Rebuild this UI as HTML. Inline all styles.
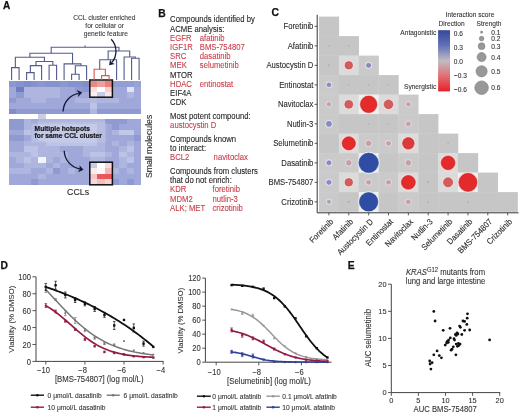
<!DOCTYPE html>
<html><head><meta charset="utf-8"><style>
html,body{margin:0;padding:0;background:#fff;}
body{width:520px;height:415px;overflow:hidden;}
svg{display:block;font-family:"Liberation Sans", sans-serif;will-change:transform;}
</style></head><body>
<svg width="520" height="415" viewBox="0 0 520 415">
<rect width="520" height="415" fill="#fff"/>
<text transform="translate(3.00,8.70) scale(1,1)" font-size="10.100" fill="#111" text-anchor="start" font-weight="bold" stroke="#111" stroke-width="0.25">A</text>
<text transform="translate(104.30,20.20) scale(0.92,1)" font-size="7.283" fill="#3a3a3a" text-anchor="middle" font-weight="normal" stroke="#3a3a3a" stroke-width="0.098" >CCL cluster enriched</text>
<text transform="translate(104.60,27.90) scale(0.92,1)" font-size="7.283" fill="#3a3a3a" text-anchor="middle" font-weight="normal" stroke="#3a3a3a" stroke-width="0.098" >for cellular or</text>
<text transform="translate(105.80,35.60) scale(0.92,1)" font-size="7.283" fill="#3a3a3a" text-anchor="middle" font-weight="normal" stroke="#3a3a3a" stroke-width="0.098" >genetic feature</text>
<defs><filter id="hb" x="-5%" y="-5%" width="110%" height="110%"><feGaussianBlur stdDeviation="0.45"/></filter></defs>
<g filter="url(#hb)" shape-rendering="crispEdges">
<rect x="9.00" y="81.00" width="8.25" height="6.43" fill="rgb(140, 151, 207)"/>
<rect x="16.35" y="81.00" width="8.25" height="6.43" fill="rgb(134, 146, 205)"/>
<rect x="23.70" y="81.00" width="8.25" height="6.43" fill="rgb(128, 141, 202)"/>
<rect x="31.05" y="81.00" width="8.25" height="6.43" fill="rgb(134, 146, 205)"/>
<rect x="38.40" y="81.00" width="8.25" height="6.43" fill="rgb(140, 151, 207)"/>
<rect x="45.75" y="81.00" width="8.25" height="6.43" fill="rgb(134, 146, 205)"/>
<rect x="53.10" y="81.00" width="8.25" height="6.43" fill="rgb(134, 146, 205)"/>
<rect x="60.45" y="81.00" width="8.25" height="6.43" fill="rgb(140, 151, 207)"/>
<rect x="67.80" y="81.00" width="8.25" height="6.43" fill="rgb(134, 146, 205)"/>
<rect x="75.15" y="81.00" width="8.25" height="6.43" fill="rgb(134, 146, 205)"/>
<rect x="82.50" y="81.00" width="8.25" height="6.43" fill="rgb(128, 141, 202)"/>
<rect x="89.85" y="81.00" width="8.25" height="6.43" fill="rgb(236, 136, 130)"/>
<rect x="97.20" y="81.00" width="8.25" height="6.43" fill="rgb(240, 160, 155)"/>
<rect x="104.55" y="81.00" width="8.25" height="6.43" fill="rgb(234, 128, 122)"/>
<rect x="111.90" y="81.00" width="8.25" height="6.43" fill="rgb(146, 157, 210)"/>
<rect x="119.25" y="81.00" width="8.25" height="6.43" fill="rgb(146, 157, 210)"/>
<rect x="126.60" y="81.00" width="8.25" height="6.43" fill="rgb(146, 157, 210)"/>
<rect x="133.95" y="81.00" width="7.35" height="6.43" fill="rgb(152, 162, 213)"/>
<rect x="9.00" y="86.53" width="8.25" height="6.43" fill="rgb(159, 168, 216)"/>
<rect x="16.35" y="86.53" width="8.25" height="6.43" fill="rgb(110, 124, 193)"/>
<rect x="23.70" y="86.53" width="8.25" height="6.43" fill="rgb(174, 181, 223)"/>
<rect x="31.05" y="86.53" width="8.25" height="6.43" fill="rgb(174, 181, 223)"/>
<rect x="38.40" y="86.53" width="8.25" height="6.43" fill="rgb(174, 181, 223)"/>
<rect x="45.75" y="86.53" width="8.25" height="6.43" fill="rgb(174, 181, 223)"/>
<rect x="53.10" y="86.53" width="8.25" height="6.43" fill="rgb(174, 181, 223)"/>
<rect x="60.45" y="86.53" width="8.25" height="6.43" fill="rgb(159, 168, 216)"/>
<rect x="67.80" y="86.53" width="8.25" height="6.43" fill="rgb(159, 168, 216)"/>
<rect x="75.15" y="86.53" width="8.25" height="6.43" fill="rgb(143, 154, 209)"/>
<rect x="82.50" y="86.53" width="8.25" height="6.43" fill="rgb(137, 149, 206)"/>
<rect x="89.85" y="86.53" width="8.25" height="6.43" fill="rgb(249, 227, 224)"/>
<rect x="97.20" y="86.53" width="8.25" height="6.43" fill="rgb(255, 255, 255)"/>
<rect x="104.55" y="86.53" width="8.25" height="6.43" fill="rgb(245, 208, 204)"/>
<rect x="111.90" y="86.53" width="8.25" height="6.43" fill="rgb(159, 168, 216)"/>
<rect x="119.25" y="86.53" width="8.25" height="6.43" fill="rgb(159, 168, 216)"/>
<rect x="126.60" y="86.53" width="8.25" height="6.43" fill="rgb(226, 227, 247)"/>
<rect x="133.95" y="86.53" width="7.35" height="6.43" fill="rgb(159, 168, 216)"/>
<rect x="9.00" y="92.06" width="8.25" height="6.43" fill="rgb(159, 168, 216)"/>
<rect x="16.35" y="92.06" width="8.25" height="6.43" fill="rgb(143, 154, 209)"/>
<rect x="23.70" y="92.06" width="8.25" height="6.43" fill="rgb(174, 181, 223)"/>
<rect x="31.05" y="92.06" width="8.25" height="6.43" fill="rgb(174, 181, 223)"/>
<rect x="38.40" y="92.06" width="8.25" height="6.43" fill="rgb(174, 181, 223)"/>
<rect x="45.75" y="92.06" width="8.25" height="6.43" fill="rgb(174, 181, 223)"/>
<rect x="53.10" y="92.06" width="8.25" height="6.43" fill="rgb(174, 181, 223)"/>
<rect x="60.45" y="92.06" width="8.25" height="6.43" fill="rgb(159, 168, 216)"/>
<rect x="67.80" y="92.06" width="8.25" height="6.43" fill="rgb(159, 168, 216)"/>
<rect x="75.15" y="92.06" width="8.25" height="6.43" fill="rgb(159, 168, 216)"/>
<rect x="82.50" y="92.06" width="8.25" height="6.43" fill="rgb(159, 168, 216)"/>
<rect x="89.85" y="92.06" width="8.25" height="6.43" fill="rgb(251, 238, 238)"/>
<rect x="97.20" y="92.06" width="8.25" height="6.43" fill="rgb(197, 203, 229)"/>
<rect x="104.55" y="92.06" width="8.25" height="6.43" fill="rgb(250, 230, 230)"/>
<rect x="111.90" y="92.06" width="8.25" height="6.43" fill="rgb(159, 168, 216)"/>
<rect x="119.25" y="92.06" width="8.25" height="6.43" fill="rgb(159, 168, 216)"/>
<rect x="126.60" y="92.06" width="8.25" height="6.43" fill="rgb(174, 181, 223)"/>
<rect x="133.95" y="92.06" width="7.35" height="6.43" fill="rgb(159, 168, 216)"/>
<rect x="9.00" y="97.59" width="8.25" height="6.43" fill="rgb(143, 154, 209)"/>
<rect x="16.35" y="97.59" width="8.25" height="6.43" fill="rgb(159, 168, 216)"/>
<rect x="23.70" y="97.59" width="8.25" height="6.43" fill="rgb(159, 168, 216)"/>
<rect x="31.05" y="97.59" width="8.25" height="6.43" fill="rgb(174, 181, 223)"/>
<rect x="38.40" y="97.59" width="8.25" height="6.43" fill="rgb(174, 181, 223)"/>
<rect x="45.75" y="97.59" width="8.25" height="6.43" fill="rgb(159, 168, 216)"/>
<rect x="53.10" y="97.59" width="8.25" height="6.43" fill="rgb(159, 168, 216)"/>
<rect x="60.45" y="97.59" width="8.25" height="6.43" fill="rgb(159, 168, 216)"/>
<rect x="67.80" y="97.59" width="8.25" height="6.43" fill="rgb(159, 168, 216)"/>
<rect x="75.15" y="97.59" width="8.25" height="6.43" fill="rgb(174, 181, 223)"/>
<rect x="82.50" y="97.59" width="8.25" height="6.43" fill="rgb(174, 181, 223)"/>
<rect x="89.85" y="97.59" width="8.25" height="6.43" fill="rgb(180, 186, 226)"/>
<rect x="97.20" y="97.59" width="8.25" height="6.43" fill="rgb(174, 181, 223)"/>
<rect x="104.55" y="97.59" width="8.25" height="6.43" fill="rgb(174, 181, 223)"/>
<rect x="111.90" y="97.59" width="8.25" height="6.43" fill="rgb(174, 181, 223)"/>
<rect x="119.25" y="97.59" width="8.25" height="6.43" fill="rgb(159, 168, 216)"/>
<rect x="126.60" y="97.59" width="8.25" height="6.43" fill="rgb(159, 168, 216)"/>
<rect x="133.95" y="97.59" width="7.35" height="6.43" fill="rgb(159, 168, 216)"/>
<rect x="9.00" y="103.12" width="8.25" height="6.43" fill="rgb(159, 168, 216)"/>
<rect x="16.35" y="103.12" width="8.25" height="6.43" fill="rgb(159, 168, 216)"/>
<rect x="23.70" y="103.12" width="8.25" height="6.43" fill="rgb(159, 168, 216)"/>
<rect x="31.05" y="103.12" width="8.25" height="6.43" fill="rgb(159, 168, 216)"/>
<rect x="38.40" y="103.12" width="8.25" height="6.43" fill="rgb(159, 168, 216)"/>
<rect x="45.75" y="103.12" width="8.25" height="6.43" fill="rgb(159, 168, 216)"/>
<rect x="53.10" y="103.12" width="8.25" height="6.43" fill="rgb(159, 168, 216)"/>
<rect x="60.45" y="103.12" width="8.25" height="6.43" fill="rgb(159, 168, 216)"/>
<rect x="67.80" y="103.12" width="8.25" height="6.43" fill="rgb(159, 168, 216)"/>
<rect x="75.15" y="103.12" width="8.25" height="6.43" fill="rgb(159, 168, 216)"/>
<rect x="82.50" y="103.12" width="8.25" height="6.43" fill="rgb(159, 168, 216)"/>
<rect x="89.85" y="103.12" width="8.25" height="6.43" fill="rgb(189, 195, 230)"/>
<rect x="97.20" y="103.12" width="8.25" height="6.43" fill="rgb(159, 168, 216)"/>
<rect x="104.55" y="103.12" width="8.25" height="6.43" fill="rgb(159, 168, 216)"/>
<rect x="111.90" y="103.12" width="8.25" height="6.43" fill="rgb(159, 168, 216)"/>
<rect x="119.25" y="103.12" width="8.25" height="6.43" fill="rgb(159, 168, 216)"/>
<rect x="126.60" y="103.12" width="8.25" height="6.43" fill="rgb(159, 168, 216)"/>
<rect x="133.95" y="103.12" width="7.35" height="6.43" fill="rgb(159, 168, 216)"/>
<rect x="9.00" y="108.65" width="8.25" height="5.53" fill="rgb(128, 141, 202)"/>
<rect x="16.35" y="108.65" width="8.25" height="5.53" fill="rgb(143, 154, 209)"/>
<rect x="23.70" y="108.65" width="8.25" height="5.53" fill="rgb(143, 154, 209)"/>
<rect x="31.05" y="108.65" width="8.25" height="5.53" fill="rgb(143, 154, 209)"/>
<rect x="38.40" y="108.65" width="8.25" height="5.53" fill="rgb(143, 154, 209)"/>
<rect x="45.75" y="108.65" width="8.25" height="5.53" fill="rgb(143, 154, 209)"/>
<rect x="53.10" y="108.65" width="8.25" height="5.53" fill="rgb(143, 154, 209)"/>
<rect x="60.45" y="108.65" width="8.25" height="5.53" fill="rgb(143, 154, 209)"/>
<rect x="67.80" y="108.65" width="8.25" height="5.53" fill="rgb(143, 154, 209)"/>
<rect x="75.15" y="108.65" width="8.25" height="5.53" fill="rgb(143, 154, 209)"/>
<rect x="82.50" y="108.65" width="8.25" height="5.53" fill="rgb(143, 154, 209)"/>
<rect x="89.85" y="108.65" width="8.25" height="5.53" fill="rgb(174, 181, 223)"/>
<rect x="97.20" y="108.65" width="8.25" height="5.53" fill="rgb(143, 154, 209)"/>
<rect x="104.55" y="108.65" width="8.25" height="5.53" fill="rgb(143, 154, 209)"/>
<rect x="111.90" y="108.65" width="8.25" height="5.53" fill="rgb(143, 154, 209)"/>
<rect x="119.25" y="108.65" width="8.25" height="5.53" fill="rgb(143, 154, 209)"/>
<rect x="126.60" y="108.65" width="8.25" height="5.53" fill="rgb(143, 154, 209)"/>
<rect x="133.95" y="108.65" width="7.35" height="5.53" fill="rgb(143, 154, 209)"/>
<rect x="38.40" y="114.2" width="7.35" height="4.3" fill="rgb(200,205,226)"/>
<rect x="9.00" y="118.50" width="8.25" height="6.40" fill="rgb(143, 154, 209)"/>
<rect x="16.35" y="118.50" width="8.25" height="6.40" fill="rgb(143, 154, 209)"/>
<rect x="23.70" y="118.50" width="8.25" height="6.40" fill="rgb(174, 181, 223)"/>
<rect x="31.05" y="118.50" width="8.25" height="6.40" fill="rgb(159, 168, 216)"/>
<rect x="38.40" y="118.50" width="8.25" height="6.40" fill="rgb(174, 181, 223)"/>
<rect x="45.75" y="118.50" width="8.25" height="6.40" fill="rgb(174, 181, 223)"/>
<rect x="53.10" y="118.50" width="8.25" height="6.40" fill="rgb(174, 181, 223)"/>
<rect x="60.45" y="118.50" width="8.25" height="6.40" fill="rgb(174, 181, 223)"/>
<rect x="67.80" y="118.50" width="8.25" height="6.40" fill="rgb(174, 181, 223)"/>
<rect x="75.15" y="118.50" width="8.25" height="6.40" fill="rgb(174, 181, 223)"/>
<rect x="82.50" y="118.50" width="8.25" height="6.40" fill="rgb(174, 181, 223)"/>
<rect x="89.85" y="118.50" width="8.25" height="6.40" fill="rgb(174, 181, 223)"/>
<rect x="97.20" y="118.50" width="8.25" height="6.40" fill="rgb(174, 181, 223)"/>
<rect x="104.55" y="118.50" width="8.25" height="6.40" fill="rgb(143, 154, 209)"/>
<rect x="111.90" y="118.50" width="8.25" height="6.40" fill="rgb(143, 154, 209)"/>
<rect x="119.25" y="118.50" width="8.25" height="6.40" fill="rgb(143, 154, 209)"/>
<rect x="126.60" y="118.50" width="8.25" height="6.40" fill="rgb(159, 168, 216)"/>
<rect x="133.95" y="118.50" width="7.35" height="6.40" fill="rgb(159, 168, 216)"/>
<rect x="9.00" y="124.00" width="8.25" height="6.40" fill="rgb(143, 154, 209)"/>
<rect x="16.35" y="124.00" width="8.25" height="6.40" fill="rgb(143, 154, 209)"/>
<rect x="23.70" y="124.00" width="8.25" height="6.40" fill="rgb(174, 181, 223)"/>
<rect x="31.05" y="124.00" width="8.25" height="6.40" fill="rgb(174, 181, 223)"/>
<rect x="38.40" y="124.00" width="8.25" height="6.40" fill="rgb(189, 195, 230)"/>
<rect x="45.75" y="124.00" width="8.25" height="6.40" fill="rgb(189, 195, 230)"/>
<rect x="53.10" y="124.00" width="8.25" height="6.40" fill="rgb(189, 195, 230)"/>
<rect x="60.45" y="124.00" width="8.25" height="6.40" fill="rgb(189, 195, 230)"/>
<rect x="67.80" y="124.00" width="8.25" height="6.40" fill="rgb(189, 195, 230)"/>
<rect x="75.15" y="124.00" width="8.25" height="6.40" fill="rgb(189, 195, 230)"/>
<rect x="82.50" y="124.00" width="8.25" height="6.40" fill="rgb(189, 195, 230)"/>
<rect x="89.85" y="124.00" width="8.25" height="6.40" fill="rgb(189, 195, 230)"/>
<rect x="97.20" y="124.00" width="8.25" height="6.40" fill="rgb(174, 181, 223)"/>
<rect x="104.55" y="124.00" width="8.25" height="6.40" fill="rgb(159, 168, 216)"/>
<rect x="111.90" y="124.00" width="8.25" height="6.40" fill="rgb(143, 154, 209)"/>
<rect x="119.25" y="124.00" width="8.25" height="6.40" fill="rgb(159, 168, 216)"/>
<rect x="126.60" y="124.00" width="8.25" height="6.40" fill="rgb(159, 168, 216)"/>
<rect x="133.95" y="124.00" width="7.35" height="6.40" fill="rgb(159, 168, 216)"/>
<rect x="9.00" y="129.50" width="8.25" height="6.40" fill="rgb(159, 168, 216)"/>
<rect x="16.35" y="129.50" width="8.25" height="6.40" fill="rgb(159, 168, 216)"/>
<rect x="23.70" y="129.50" width="8.25" height="6.40" fill="rgb(189, 195, 230)"/>
<rect x="31.05" y="129.50" width="8.25" height="6.40" fill="rgb(174, 181, 223)"/>
<rect x="38.40" y="129.50" width="8.25" height="6.40" fill="rgb(189, 195, 230)"/>
<rect x="45.75" y="129.50" width="8.25" height="6.40" fill="rgb(189, 195, 230)"/>
<rect x="53.10" y="129.50" width="8.25" height="6.40" fill="rgb(189, 195, 230)"/>
<rect x="60.45" y="129.50" width="8.25" height="6.40" fill="rgb(189, 195, 230)"/>
<rect x="67.80" y="129.50" width="8.25" height="6.40" fill="rgb(189, 195, 230)"/>
<rect x="75.15" y="129.50" width="8.25" height="6.40" fill="rgb(189, 195, 230)"/>
<rect x="82.50" y="129.50" width="8.25" height="6.40" fill="rgb(189, 195, 230)"/>
<rect x="89.85" y="129.50" width="8.25" height="6.40" fill="rgb(189, 195, 230)"/>
<rect x="97.20" y="129.50" width="8.25" height="6.40" fill="rgb(174, 181, 223)"/>
<rect x="104.55" y="129.50" width="8.25" height="6.40" fill="rgb(159, 168, 216)"/>
<rect x="111.90" y="129.50" width="8.25" height="6.40" fill="rgb(174, 181, 223)"/>
<rect x="119.25" y="129.50" width="8.25" height="6.40" fill="rgb(195, 200, 233)"/>
<rect x="126.60" y="129.50" width="8.25" height="6.40" fill="rgb(195, 200, 233)"/>
<rect x="133.95" y="129.50" width="7.35" height="6.40" fill="rgb(159, 168, 216)"/>
<rect x="9.00" y="135.00" width="8.25" height="6.40" fill="rgb(143, 154, 209)"/>
<rect x="16.35" y="135.00" width="8.25" height="6.40" fill="rgb(143, 154, 209)"/>
<rect x="23.70" y="135.00" width="8.25" height="6.40" fill="rgb(159, 168, 216)"/>
<rect x="31.05" y="135.00" width="8.25" height="6.40" fill="rgb(174, 181, 223)"/>
<rect x="38.40" y="135.00" width="8.25" height="6.40" fill="rgb(189, 195, 230)"/>
<rect x="45.75" y="135.00" width="8.25" height="6.40" fill="rgb(189, 195, 230)"/>
<rect x="53.10" y="135.00" width="8.25" height="6.40" fill="rgb(189, 195, 230)"/>
<rect x="60.45" y="135.00" width="8.25" height="6.40" fill="rgb(189, 195, 230)"/>
<rect x="67.80" y="135.00" width="8.25" height="6.40" fill="rgb(189, 195, 230)"/>
<rect x="75.15" y="135.00" width="8.25" height="6.40" fill="rgb(189, 195, 230)"/>
<rect x="82.50" y="135.00" width="8.25" height="6.40" fill="rgb(189, 195, 230)"/>
<rect x="89.85" y="135.00" width="8.25" height="6.40" fill="rgb(189, 195, 230)"/>
<rect x="97.20" y="135.00" width="8.25" height="6.40" fill="rgb(174, 181, 223)"/>
<rect x="104.55" y="135.00" width="8.25" height="6.40" fill="rgb(159, 168, 216)"/>
<rect x="111.90" y="135.00" width="8.25" height="6.40" fill="rgb(159, 168, 216)"/>
<rect x="119.25" y="135.00" width="8.25" height="6.40" fill="rgb(159, 168, 216)"/>
<rect x="126.60" y="135.00" width="8.25" height="6.40" fill="rgb(159, 168, 216)"/>
<rect x="133.95" y="135.00" width="7.35" height="6.40" fill="rgb(143, 154, 209)"/>
<rect x="9.00" y="140.50" width="8.25" height="6.40" fill="rgb(159, 168, 216)"/>
<rect x="16.35" y="140.50" width="8.25" height="6.40" fill="rgb(159, 168, 216)"/>
<rect x="23.70" y="140.50" width="8.25" height="6.40" fill="rgb(174, 181, 223)"/>
<rect x="31.05" y="140.50" width="8.25" height="6.40" fill="rgb(174, 181, 223)"/>
<rect x="38.40" y="140.50" width="8.25" height="6.40" fill="rgb(174, 181, 223)"/>
<rect x="45.75" y="140.50" width="8.25" height="6.40" fill="rgb(189, 195, 230)"/>
<rect x="53.10" y="140.50" width="8.25" height="6.40" fill="rgb(189, 195, 230)"/>
<rect x="60.45" y="140.50" width="8.25" height="6.40" fill="rgb(189, 195, 230)"/>
<rect x="67.80" y="140.50" width="8.25" height="6.40" fill="rgb(189, 195, 230)"/>
<rect x="75.15" y="140.50" width="8.25" height="6.40" fill="rgb(189, 195, 230)"/>
<rect x="82.50" y="140.50" width="8.25" height="6.40" fill="rgb(189, 195, 230)"/>
<rect x="89.85" y="140.50" width="8.25" height="6.40" fill="rgb(189, 195, 230)"/>
<rect x="97.20" y="140.50" width="8.25" height="6.40" fill="rgb(174, 181, 223)"/>
<rect x="104.55" y="140.50" width="8.25" height="6.40" fill="rgb(159, 168, 216)"/>
<rect x="111.90" y="140.50" width="8.25" height="6.40" fill="rgb(174, 181, 223)"/>
<rect x="119.25" y="140.50" width="8.25" height="6.40" fill="rgb(159, 168, 216)"/>
<rect x="126.60" y="140.50" width="8.25" height="6.40" fill="rgb(174, 181, 223)"/>
<rect x="133.95" y="140.50" width="7.35" height="6.40" fill="rgb(159, 168, 216)"/>
<rect x="9.00" y="146.00" width="8.25" height="6.40" fill="rgb(159, 168, 216)"/>
<rect x="16.35" y="146.00" width="8.25" height="6.40" fill="rgb(159, 168, 216)"/>
<rect x="23.70" y="146.00" width="8.25" height="6.40" fill="rgb(189, 195, 230)"/>
<rect x="31.05" y="146.00" width="8.25" height="6.40" fill="rgb(189, 195, 230)"/>
<rect x="38.40" y="146.00" width="8.25" height="6.40" fill="rgb(174, 181, 223)"/>
<rect x="45.75" y="146.00" width="8.25" height="6.40" fill="rgb(174, 181, 223)"/>
<rect x="53.10" y="146.00" width="8.25" height="6.40" fill="rgb(174, 181, 223)"/>
<rect x="60.45" y="146.00" width="8.25" height="6.40" fill="rgb(159, 168, 216)"/>
<rect x="67.80" y="146.00" width="8.25" height="6.40" fill="rgb(159, 168, 216)"/>
<rect x="75.15" y="146.00" width="8.25" height="6.40" fill="rgb(159, 168, 216)"/>
<rect x="82.50" y="146.00" width="8.25" height="6.40" fill="rgb(174, 181, 223)"/>
<rect x="89.85" y="146.00" width="8.25" height="6.40" fill="rgb(174, 181, 223)"/>
<rect x="97.20" y="146.00" width="8.25" height="6.40" fill="rgb(174, 181, 223)"/>
<rect x="104.55" y="146.00" width="8.25" height="6.40" fill="rgb(159, 168, 216)"/>
<rect x="111.90" y="146.00" width="8.25" height="6.40" fill="rgb(159, 168, 216)"/>
<rect x="119.25" y="146.00" width="8.25" height="6.40" fill="rgb(174, 181, 223)"/>
<rect x="126.60" y="146.00" width="8.25" height="6.40" fill="rgb(189, 195, 230)"/>
<rect x="133.95" y="146.00" width="7.35" height="6.40" fill="rgb(159, 168, 216)"/>
<rect x="9.00" y="151.50" width="8.25" height="6.40" fill="rgb(174, 181, 223)"/>
<rect x="16.35" y="151.50" width="8.25" height="6.40" fill="rgb(174, 181, 223)"/>
<rect x="23.70" y="151.50" width="8.25" height="6.40" fill="rgb(174, 181, 223)"/>
<rect x="31.05" y="151.50" width="8.25" height="6.40" fill="rgb(189, 195, 230)"/>
<rect x="38.40" y="151.50" width="8.25" height="6.40" fill="rgb(174, 181, 223)"/>
<rect x="45.75" y="151.50" width="8.25" height="6.40" fill="rgb(174, 181, 223)"/>
<rect x="53.10" y="151.50" width="8.25" height="6.40" fill="rgb(174, 181, 223)"/>
<rect x="60.45" y="151.50" width="8.25" height="6.40" fill="rgb(174, 181, 223)"/>
<rect x="67.80" y="151.50" width="8.25" height="6.40" fill="rgb(159, 168, 216)"/>
<rect x="75.15" y="151.50" width="8.25" height="6.40" fill="rgb(159, 168, 216)"/>
<rect x="82.50" y="151.50" width="8.25" height="6.40" fill="rgb(174, 181, 223)"/>
<rect x="89.85" y="151.50" width="8.25" height="6.40" fill="rgb(189, 195, 230)"/>
<rect x="97.20" y="151.50" width="8.25" height="6.40" fill="rgb(189, 195, 230)"/>
<rect x="104.55" y="151.50" width="8.25" height="6.40" fill="rgb(174, 181, 223)"/>
<rect x="111.90" y="151.50" width="8.25" height="6.40" fill="rgb(159, 168, 216)"/>
<rect x="119.25" y="151.50" width="8.25" height="6.40" fill="rgb(189, 195, 230)"/>
<rect x="126.60" y="151.50" width="8.25" height="6.40" fill="rgb(174, 181, 223)"/>
<rect x="133.95" y="151.50" width="7.35" height="6.40" fill="rgb(159, 168, 216)"/>
<rect x="9.00" y="157.00" width="8.25" height="6.40" fill="rgb(159, 168, 216)"/>
<rect x="16.35" y="157.00" width="8.25" height="6.40" fill="rgb(174, 181, 223)"/>
<rect x="23.70" y="157.00" width="8.25" height="6.40" fill="rgb(189, 195, 230)"/>
<rect x="31.05" y="157.00" width="8.25" height="6.40" fill="rgb(174, 181, 223)"/>
<rect x="38.40" y="157.00" width="8.25" height="6.40" fill="rgb(244, 245, 250)"/>
<rect x="45.75" y="157.00" width="8.25" height="6.40" fill="rgb(174, 181, 223)"/>
<rect x="53.10" y="157.00" width="8.25" height="6.40" fill="rgb(159, 168, 216)"/>
<rect x="60.45" y="157.00" width="8.25" height="6.40" fill="rgb(174, 181, 223)"/>
<rect x="67.80" y="157.00" width="8.25" height="6.40" fill="rgb(159, 168, 216)"/>
<rect x="75.15" y="157.00" width="8.25" height="6.40" fill="rgb(159, 168, 216)"/>
<rect x="82.50" y="157.00" width="8.25" height="6.40" fill="rgb(159, 168, 216)"/>
<rect x="89.85" y="157.00" width="8.25" height="6.40" fill="rgb(174, 181, 223)"/>
<rect x="97.20" y="157.00" width="8.25" height="6.40" fill="rgb(174, 181, 223)"/>
<rect x="104.55" y="157.00" width="8.25" height="6.40" fill="rgb(159, 168, 216)"/>
<rect x="111.90" y="157.00" width="8.25" height="6.40" fill="rgb(159, 168, 216)"/>
<rect x="119.25" y="157.00" width="8.25" height="6.40" fill="rgb(174, 181, 223)"/>
<rect x="126.60" y="157.00" width="8.25" height="6.40" fill="rgb(189, 195, 230)"/>
<rect x="133.95" y="157.00" width="7.35" height="6.40" fill="rgb(159, 168, 216)"/>
<rect x="9.00" y="162.50" width="8.25" height="6.40" fill="rgb(159, 168, 216)"/>
<rect x="16.35" y="162.50" width="8.25" height="6.40" fill="rgb(159, 168, 216)"/>
<rect x="23.70" y="162.50" width="8.25" height="6.40" fill="rgb(174, 181, 223)"/>
<rect x="31.05" y="162.50" width="8.25" height="6.40" fill="rgb(174, 181, 223)"/>
<rect x="38.40" y="162.50" width="8.25" height="6.40" fill="rgb(174, 181, 223)"/>
<rect x="45.75" y="162.50" width="8.25" height="6.40" fill="rgb(159, 168, 216)"/>
<rect x="53.10" y="162.50" width="8.25" height="6.40" fill="rgb(174, 181, 223)"/>
<rect x="60.45" y="162.50" width="8.25" height="6.40" fill="rgb(159, 168, 216)"/>
<rect x="67.80" y="162.50" width="8.25" height="6.40" fill="rgb(159, 168, 216)"/>
<rect x="75.15" y="162.50" width="8.25" height="6.40" fill="rgb(159, 168, 216)"/>
<rect x="82.50" y="162.50" width="8.25" height="6.40" fill="rgb(159, 168, 216)"/>
<rect x="89.85" y="162.50" width="8.25" height="6.40" fill="rgb(200, 204, 232)"/>
<rect x="97.20" y="162.50" width="8.25" height="6.40" fill="rgb(255, 255, 255)"/>
<rect x="104.55" y="162.50" width="8.25" height="6.40" fill="rgb(246, 218, 218)"/>
<rect x="111.90" y="162.50" width="8.25" height="6.40" fill="rgb(159, 168, 216)"/>
<rect x="119.25" y="162.50" width="8.25" height="6.40" fill="rgb(174, 181, 223)"/>
<rect x="126.60" y="162.50" width="8.25" height="6.40" fill="rgb(159, 168, 216)"/>
<rect x="133.95" y="162.50" width="7.35" height="6.40" fill="rgb(159, 168, 216)"/>
<rect x="9.00" y="168.00" width="8.25" height="6.40" fill="rgb(174, 181, 223)"/>
<rect x="16.35" y="168.00" width="8.25" height="6.40" fill="rgb(174, 181, 223)"/>
<rect x="23.70" y="168.00" width="8.25" height="6.40" fill="rgb(174, 181, 223)"/>
<rect x="31.05" y="168.00" width="8.25" height="6.40" fill="rgb(159, 168, 216)"/>
<rect x="38.40" y="168.00" width="8.25" height="6.40" fill="rgb(159, 168, 216)"/>
<rect x="45.75" y="168.00" width="8.25" height="6.40" fill="rgb(174, 181, 223)"/>
<rect x="53.10" y="168.00" width="8.25" height="6.40" fill="rgb(143, 154, 209)"/>
<rect x="60.45" y="168.00" width="8.25" height="6.40" fill="rgb(159, 168, 216)"/>
<rect x="67.80" y="168.00" width="8.25" height="6.40" fill="rgb(174, 181, 223)"/>
<rect x="75.15" y="168.00" width="8.25" height="6.40" fill="rgb(159, 168, 216)"/>
<rect x="82.50" y="168.00" width="8.25" height="6.40" fill="rgb(159, 168, 216)"/>
<rect x="89.85" y="168.00" width="8.25" height="6.40" fill="rgb(251, 236, 236)"/>
<rect x="97.20" y="168.00" width="8.25" height="6.40" fill="rgb(252, 246, 246)"/>
<rect x="104.55" y="168.00" width="8.25" height="6.40" fill="rgb(240, 184, 184)"/>
<rect x="111.90" y="168.00" width="8.25" height="6.40" fill="rgb(174, 181, 223)"/>
<rect x="119.25" y="168.00" width="8.25" height="6.40" fill="rgb(159, 168, 216)"/>
<rect x="126.60" y="168.00" width="8.25" height="6.40" fill="rgb(174, 181, 223)"/>
<rect x="133.95" y="168.00" width="7.35" height="6.40" fill="rgb(159, 168, 216)"/>
<rect x="9.00" y="173.50" width="8.25" height="6.40" fill="rgb(159, 168, 216)"/>
<rect x="16.35" y="173.50" width="8.25" height="6.40" fill="rgb(159, 168, 216)"/>
<rect x="23.70" y="173.50" width="8.25" height="6.40" fill="rgb(159, 168, 216)"/>
<rect x="31.05" y="173.50" width="8.25" height="6.40" fill="rgb(159, 168, 216)"/>
<rect x="38.40" y="173.50" width="8.25" height="6.40" fill="rgb(174, 181, 223)"/>
<rect x="45.75" y="173.50" width="8.25" height="6.40" fill="rgb(159, 168, 216)"/>
<rect x="53.10" y="173.50" width="8.25" height="6.40" fill="rgb(159, 168, 216)"/>
<rect x="60.45" y="173.50" width="8.25" height="6.40" fill="rgb(159, 168, 216)"/>
<rect x="67.80" y="173.50" width="8.25" height="6.40" fill="rgb(159, 168, 216)"/>
<rect x="75.15" y="173.50" width="8.25" height="6.40" fill="rgb(159, 168, 216)"/>
<rect x="82.50" y="173.50" width="8.25" height="6.40" fill="rgb(159, 168, 216)"/>
<rect x="89.85" y="173.50" width="8.25" height="6.40" fill="rgb(244, 200, 200)"/>
<rect x="97.20" y="173.50" width="8.25" height="6.40" fill="rgb(232, 90, 90)"/>
<rect x="104.55" y="173.50" width="8.25" height="6.40" fill="rgb(232, 86, 86)"/>
<rect x="111.90" y="173.50" width="8.25" height="6.40" fill="rgb(159, 168, 216)"/>
<rect x="119.25" y="173.50" width="8.25" height="6.40" fill="rgb(159, 168, 216)"/>
<rect x="126.60" y="173.50" width="8.25" height="6.40" fill="rgb(159, 168, 216)"/>
<rect x="133.95" y="173.50" width="7.35" height="6.40" fill="rgb(159, 168, 216)"/>
<rect x="9.00" y="179.00" width="8.25" height="5.50" fill="rgb(159, 168, 216)"/>
<rect x="16.35" y="179.00" width="8.25" height="5.50" fill="rgb(159, 168, 216)"/>
<rect x="23.70" y="179.00" width="8.25" height="5.50" fill="rgb(159, 168, 216)"/>
<rect x="31.05" y="179.00" width="8.25" height="5.50" fill="rgb(143, 154, 209)"/>
<rect x="38.40" y="179.00" width="8.25" height="5.50" fill="rgb(159, 168, 216)"/>
<rect x="45.75" y="179.00" width="8.25" height="5.50" fill="rgb(159, 168, 216)"/>
<rect x="53.10" y="179.00" width="8.25" height="5.50" fill="rgb(159, 168, 216)"/>
<rect x="60.45" y="179.00" width="8.25" height="5.50" fill="rgb(159, 168, 216)"/>
<rect x="67.80" y="179.00" width="8.25" height="5.50" fill="rgb(159, 168, 216)"/>
<rect x="75.15" y="179.00" width="8.25" height="5.50" fill="rgb(159, 168, 216)"/>
<rect x="82.50" y="179.00" width="8.25" height="5.50" fill="rgb(159, 168, 216)"/>
<rect x="89.85" y="179.00" width="8.25" height="5.50" fill="rgb(246, 216, 216)"/>
<rect x="97.20" y="179.00" width="8.25" height="5.50" fill="rgb(242, 192, 192)"/>
<rect x="104.55" y="179.00" width="8.25" height="5.50" fill="rgb(246, 210, 210)"/>
<rect x="111.90" y="179.00" width="8.25" height="5.50" fill="rgb(143, 154, 209)"/>
<rect x="119.25" y="179.00" width="8.25" height="5.50" fill="rgb(159, 168, 216)"/>
<rect x="126.60" y="179.00" width="8.25" height="5.50" fill="rgb(143, 154, 209)"/>
<rect x="133.95" y="179.00" width="7.35" height="5.50" fill="rgb(159, 168, 216)"/>
</g>
<rect x="31.7" y="121.8" width="74.8" height="20.8" fill="#ffffff" fill-opacity="0.12"/>
<rect x="89.8" y="80.0" width="22.6" height="17.2" fill="none" stroke="#111" stroke-width="1.5"/>
<rect x="89.8" y="162.2" width="22.6" height="22.6" fill="none" stroke="#111" stroke-width="1.5"/>
<path d="M11.60,80.00V67.60H19.10V80.00" fill="none" stroke="#535a8e" stroke-width="1.1"/>
<path d="M26.60,80.00V72.60H34.10V80.00" fill="none" stroke="#535a8e" stroke-width="1.1"/>
<path d="M30.35,72.60V65.60H41.60V80.00" fill="none" stroke="#535a8e" stroke-width="1.1"/>
<path d="M49.10,80.00V65.30H56.60V80.00" fill="none" stroke="#535a8e" stroke-width="1.1"/>
<path d="M35.98,65.60V61.50H52.85V65.30" fill="none" stroke="#535a8e" stroke-width="1.1"/>
<path d="M15.35,67.60V57.20H44.41V61.50" fill="none" stroke="#535a8e" stroke-width="1.1"/>
<path d="M71.60,80.00V74.20H79.10V80.00" fill="none" stroke="#535a8e" stroke-width="1.1"/>
<path d="M75.35,74.20V65.80H86.60V80.00" fill="none" stroke="#535a8e" stroke-width="1.1"/>
<path d="M64.10,80.00V63.90H80.97V65.80" fill="none" stroke="#535a8e" stroke-width="1.1"/>
<path d="M29.88,57.20V53.20H72.54V63.90" fill="none" stroke="#535a8e" stroke-width="1.1"/>
<path d="M101.60,80.00V75.60H109.10V80.00" fill="none" stroke="#e05552" stroke-width="1.1"/>
<path d="M94.10,80.00V69.30H105.35V75.60" fill="none" stroke="#e05552" stroke-width="1.1"/>
<path d="M99.72,69.30V59.70H116.60V80.00" fill="none" stroke="#535a8e" stroke-width="1.1"/>
<path d="M131.60,80.00V58.20H139.10V80.00" fill="none" stroke="#535a8e" stroke-width="1.1"/>
<path d="M124.10,80.00V57.00H135.35V58.20" fill="none" stroke="#535a8e" stroke-width="1.1"/>
<path d="M108.16,59.70V51.00H129.72V57.00" fill="none" stroke="#535a8e" stroke-width="1.1"/>
<path d="M51.21,53.20V47.30H118.94V51.00" fill="none" stroke="#535a8e" stroke-width="1.1"/>
<path d="M85.08,47.3V45.3" stroke="#535a8e" stroke-width="1"/>
<path d="M111.2,39.2 C117.5,45.5 117.5,56.5 111.6,62.6" fill="none" stroke="#14183a" stroke-width="1.3"/>
<path d="M109.10,65.19 L110.06,59.44 L111.60,62.60 L114.81,64.03 Z" fill="#14183a"/>
<path d="M63.1,111.6 C63.4,102 70,95 78.6,93.3" fill="none" stroke="#14183a" stroke-width="1.3"/>
<path d="M82.28,92.57 L78.05,96.98 L78.60,93.30 L76.70,90.11 Z" fill="#14183a"/>
<path d="M64.2,150.8 C64.5,160 71,167 79.9,169.0" fill="none" stroke="#14183a" stroke-width="1.3"/>
<path d="M83.56,169.82 L77.91,172.14 L79.90,169.00 L79.45,165.31 Z" fill="#14183a"/>
<text transform="translate(34.60,131.10) scale(0.92,1)" font-size="7.283" fill="#161616" text-anchor="start" font-weight="bold" stroke="#161616" stroke-width="0.2">Multiple hotspots</text>
<text transform="translate(34.60,138.40) scale(0.92,1)" font-size="7.283" fill="#161616" text-anchor="start" font-weight="bold" stroke="#161616" stroke-width="0.2">for same CCL cluster</text>
<text transform="translate(78.10,195.00) scale(0.92,1)" font-size="9.565" fill="#2a2a2a" text-anchor="middle" font-weight="normal" stroke="#2a2a2a" stroke-width="0.098" >CCLs</text>
<text transform="translate(151.70,146.40) rotate(-90) scale(0.92,1)" font-size="9.457" fill="#2a2a2a" text-anchor="middle" font-weight="normal" stroke="#2a2a2a" stroke-width="0.098" >Small molecules</text>
<text transform="translate(158.30,16.50) scale(1,1)" font-size="10.300" fill="#111" text-anchor="start" font-weight="bold" stroke="#111" stroke-width="0.25">B</text>
<text transform="translate(170.10,22.30) scale(0.92,1)" font-size="8.391" fill="#232323" text-anchor="start" font-weight="normal" stroke="#232323" stroke-width="0.098" >Compounds identified by</text>
<text transform="translate(170.10,31.50) scale(0.92,1)" font-size="8.391" fill="#232323" text-anchor="start" font-weight="normal" stroke="#232323" stroke-width="0.098" >ACME analysis:</text>
<text transform="translate(170.10,40.70) scale(0.92,1)" font-size="8.391" fill="#c93c48" text-anchor="start" font-weight="normal" stroke="#c93c48" stroke-width="0.098" >EGFR</text>
<text transform="translate(199.80,40.70) scale(0.92,1)" font-size="8.391" fill="#c93c48" text-anchor="start" font-weight="normal" stroke="#c93c48" stroke-width="0.098" >afatinib</text>
<text transform="translate(170.10,49.90) scale(0.92,1)" font-size="8.391" fill="#c93c48" text-anchor="start" font-weight="normal" stroke="#c93c48" stroke-width="0.098" >IGF1R</text>
<text transform="translate(199.80,49.90) scale(0.92,1)" font-size="8.391" fill="#c93c48" text-anchor="start" font-weight="normal" stroke="#c93c48" stroke-width="0.098" >BMS-754807</text>
<text transform="translate(170.10,59.10) scale(0.92,1)" font-size="8.391" fill="#c93c48" text-anchor="start" font-weight="normal" stroke="#c93c48" stroke-width="0.098" >SRC</text>
<text transform="translate(199.80,59.10) scale(0.92,1)" font-size="8.391" fill="#c93c48" text-anchor="start" font-weight="normal" stroke="#c93c48" stroke-width="0.098" >dasatinib</text>
<text transform="translate(170.10,68.30) scale(0.92,1)" font-size="8.391" fill="#c93c48" text-anchor="start" font-weight="normal" stroke="#c93c48" stroke-width="0.098" >MEK</text>
<text transform="translate(199.80,68.30) scale(0.92,1)" font-size="8.391" fill="#c93c48" text-anchor="start" font-weight="normal" stroke="#c93c48" stroke-width="0.098" >selumetinib</text>
<text transform="translate(170.10,77.50) scale(0.92,1)" font-size="8.391" fill="#232323" text-anchor="start" font-weight="normal" stroke="#232323" stroke-width="0.098" >MTOR</text>
<text transform="translate(170.10,86.70) scale(0.92,1)" font-size="8.391" fill="#c93c48" text-anchor="start" font-weight="normal" stroke="#c93c48" stroke-width="0.098" >HDAC</text>
<text transform="translate(199.80,86.70) scale(0.92,1)" font-size="8.391" fill="#c93c48" text-anchor="start" font-weight="normal" stroke="#c93c48" stroke-width="0.098" >entinostat</text>
<text transform="translate(170.10,95.90) scale(0.92,1)" font-size="8.391" fill="#232323" text-anchor="start" font-weight="normal" stroke="#232323" stroke-width="0.098" >EIF4A</text>
<text transform="translate(170.10,105.10) scale(0.92,1)" font-size="8.391" fill="#232323" text-anchor="start" font-weight="normal" stroke="#232323" stroke-width="0.098" >CDK</text>
<text transform="translate(170.10,118.60) scale(0.92,1)" font-size="8.391" fill="#232323" text-anchor="start" font-weight="normal" stroke="#232323" stroke-width="0.098" >Most potent compound:</text>
<text transform="translate(170.10,127.80) scale(0.92,1)" font-size="8.391" fill="#c93c48" text-anchor="start" font-weight="normal" stroke="#c93c48" stroke-width="0.098" >austocystin D</text>
<text transform="translate(170.10,141.50) scale(0.92,1)" font-size="8.391" fill="#232323" text-anchor="start" font-weight="normal" stroke="#232323" stroke-width="0.098" >Compounds known</text>
<text transform="translate(170.10,150.70) scale(0.92,1)" font-size="8.391" fill="#232323" text-anchor="start" font-weight="normal" stroke="#232323" stroke-width="0.098" >to interact:</text>
<text transform="translate(170.10,159.90) scale(0.92,1)" font-size="8.391" fill="#c93c48" text-anchor="start" font-weight="normal" stroke="#c93c48" stroke-width="0.098" >BCL2</text>
<text transform="translate(213.60,159.90) scale(0.92,1)" font-size="8.391" fill="#c93c48" text-anchor="start" font-weight="normal" stroke="#c93c48" stroke-width="0.098" >navitoclax</text>
<text transform="translate(170.10,174.00) scale(0.92,1)" font-size="8.391" fill="#232323" text-anchor="start" font-weight="normal" stroke="#232323" stroke-width="0.098" >Compounds from clusters</text>
<text transform="translate(170.10,183.20) scale(0.92,1)" font-size="8.391" fill="#232323" text-anchor="start" font-weight="normal" stroke="#232323" stroke-width="0.098" >that do not enrich:</text>
<text transform="translate(170.10,192.40) scale(0.92,1)" font-size="8.391" fill="#c93c48" text-anchor="start" font-weight="normal" stroke="#c93c48" stroke-width="0.098" >KDR</text>
<text transform="translate(212.50,192.40) scale(0.92,1)" font-size="8.391" fill="#c93c48" text-anchor="start" font-weight="normal" stroke="#c93c48" stroke-width="0.098" >foretinib</text>
<text transform="translate(170.10,201.60) scale(0.92,1)" font-size="8.391" fill="#c93c48" text-anchor="start" font-weight="normal" stroke="#c93c48" stroke-width="0.098" >MDM2</text>
<text transform="translate(212.50,201.60) scale(0.92,1)" font-size="8.391" fill="#c93c48" text-anchor="start" font-weight="normal" stroke="#c93c48" stroke-width="0.098" >nutlin-3</text>
<text transform="translate(170.10,210.80) scale(0.92,1)" font-size="8.391" fill="#c93c48" text-anchor="start" font-weight="normal" stroke="#c93c48" stroke-width="0.098" >ALK; MET</text>
<text transform="translate(212.50,210.80) scale(0.92,1)" font-size="8.391" fill="#c93c48" text-anchor="start" font-weight="normal" stroke="#c93c48" stroke-width="0.098" >crizotinib</text>
<text transform="translate(271.60,16.30) scale(1,1)" font-size="10.300" fill="#111" text-anchor="start" font-weight="bold" stroke="#111" stroke-width="0.25">C</text>
<rect x="319.00" y="16.60" width="20.11" height="19.75" fill="#c6c6c6"/>
<rect x="319.00" y="36.10" width="20.11" height="19.75" fill="#c6c6c6"/>
<rect x="338.86" y="36.10" width="20.11" height="19.75" fill="#c6c6c6"/>
<rect x="319.00" y="55.60" width="20.11" height="19.75" fill="#c6c6c6"/>
<rect x="338.86" y="55.60" width="20.11" height="19.75" fill="#dbdbdb"/>
<rect x="358.72" y="55.60" width="20.11" height="19.75" fill="#cacaca"/>
<rect x="319.00" y="75.10" width="20.11" height="19.75" fill="#cacaca"/>
<rect x="338.86" y="75.10" width="20.11" height="19.75" fill="#c6c6c6"/>
<rect x="358.72" y="75.10" width="20.11" height="19.75" fill="#c6c6c6"/>
<rect x="378.58" y="75.10" width="20.11" height="19.75" fill="#c6c6c6"/>
<rect x="319.00" y="94.60" width="20.11" height="19.75" fill="#cacaca"/>
<rect x="338.86" y="94.60" width="20.11" height="19.75" fill="#dbdbdb"/>
<rect x="358.72" y="94.60" width="20.11" height="19.75" fill="#f0f0f0"/>
<rect x="378.58" y="94.60" width="20.11" height="19.75" fill="#dbdbdb"/>
<rect x="398.44" y="94.60" width="20.11" height="19.75" fill="#cacaca"/>
<rect x="319.00" y="114.10" width="20.11" height="19.75" fill="#cacaca"/>
<rect x="338.86" y="114.10" width="20.11" height="19.75" fill="#c6c6c6"/>
<rect x="358.72" y="114.10" width="20.11" height="19.75" fill="#c6c6c6"/>
<rect x="378.58" y="114.10" width="20.11" height="19.75" fill="#c6c6c6"/>
<rect x="398.44" y="114.10" width="20.11" height="19.75" fill="#cacaca"/>
<rect x="418.30" y="114.10" width="20.11" height="19.75" fill="#c6c6c6"/>
<rect x="319.00" y="133.60" width="20.11" height="19.75" fill="#c6c6c6"/>
<rect x="338.86" y="133.60" width="20.11" height="19.75" fill="#dbdbdb"/>
<rect x="358.72" y="133.60" width="20.11" height="19.75" fill="#cacaca"/>
<rect x="378.58" y="133.60" width="20.11" height="19.75" fill="#cacaca"/>
<rect x="398.44" y="133.60" width="20.11" height="19.75" fill="#dbdbdb"/>
<rect x="418.30" y="133.60" width="20.11" height="19.75" fill="#c6c6c6"/>
<rect x="438.16" y="133.60" width="20.11" height="19.75" fill="#c6c6c6"/>
<rect x="319.00" y="153.10" width="20.11" height="19.75" fill="#cacaca"/>
<rect x="338.86" y="153.10" width="20.11" height="19.75" fill="#cacaca"/>
<rect x="358.72" y="153.10" width="20.11" height="19.75" fill="#f0f0f0"/>
<rect x="378.58" y="153.10" width="20.11" height="19.75" fill="#c6c6c6"/>
<rect x="398.44" y="153.10" width="20.11" height="19.75" fill="#cacaca"/>
<rect x="418.30" y="153.10" width="20.11" height="19.75" fill="#c6c6c6"/>
<rect x="438.16" y="153.10" width="20.11" height="19.75" fill="#dbdbdb"/>
<rect x="458.02" y="153.10" width="20.11" height="19.75" fill="#c6c6c6"/>
<rect x="319.00" y="172.60" width="20.11" height="19.75" fill="#cacaca"/>
<rect x="338.86" y="172.60" width="20.11" height="19.75" fill="#dbdbdb"/>
<rect x="358.72" y="172.60" width="20.11" height="19.75" fill="#cacaca"/>
<rect x="378.58" y="172.60" width="20.11" height="19.75" fill="#cacaca"/>
<rect x="398.44" y="172.60" width="20.11" height="19.75" fill="#dbdbdb"/>
<rect x="418.30" y="172.60" width="20.11" height="19.75" fill="#c6c6c6"/>
<rect x="438.16" y="172.60" width="20.11" height="19.75" fill="#dbdbdb"/>
<rect x="458.02" y="172.60" width="20.11" height="19.75" fill="#f0f0f0"/>
<rect x="477.88" y="172.60" width="20.11" height="19.75" fill="#c6c6c6"/>
<rect x="319.00" y="192.10" width="20.11" height="19.75" fill="#cacaca"/>
<rect x="338.86" y="192.10" width="20.11" height="19.75" fill="#c6c6c6"/>
<rect x="358.72" y="192.10" width="20.11" height="19.75" fill="#f0f0f0"/>
<rect x="378.58" y="192.10" width="20.11" height="19.75" fill="#c6c6c6"/>
<rect x="398.44" y="192.10" width="20.11" height="19.75" fill="#cacaca"/>
<rect x="418.30" y="192.10" width="20.11" height="19.75" fill="#c6c6c6"/>
<rect x="438.16" y="192.10" width="20.11" height="19.75" fill="#c6c6c6"/>
<rect x="458.02" y="192.10" width="20.11" height="19.75" fill="#c6c6c6"/>
<rect x="477.88" y="192.10" width="20.11" height="19.75" fill="#c6c6c6"/>
<rect x="497.74" y="192.10" width="20.11" height="19.75" fill="#c6c6c6"/>
<circle cx="328.93" cy="45.85" r="0.8" fill="#b0b0b0"/>
<circle cx="348.79" cy="45.85" r="0.8" fill="#b0b0b0"/>
<circle cx="328.93" cy="65.35" r="1.0" fill="#b0b0b0"/>
<circle cx="348.79" cy="65.35" r="5.10" fill="#f2dada"/>
<circle cx="348.79" cy="65.35" r="3.75" fill="#d65c5c" stroke="#b84848" stroke-width="0.6"/>
<circle cx="368.65" cy="65.35" r="3.50" fill="#e2e2ee"/>
<circle cx="368.65" cy="65.35" r="2.15" fill="#8a8ac8" stroke="#7878b0" stroke-width="0.6"/>
<circle cx="328.93" cy="84.85" r="3.30" fill="#e2e2ee"/>
<circle cx="328.93" cy="84.85" r="1.95" fill="#8a8ac8" stroke="#7878b0" stroke-width="0.6"/>
<circle cx="348.79" cy="84.85" r="0.8" fill="#b0b0b0"/>
<circle cx="368.65" cy="84.85" r="0.8" fill="#b0b0b0"/>
<circle cx="388.51" cy="84.85" r="0.8" fill="#b0b0b0"/>
<circle cx="328.93" cy="104.35" r="3.10" fill="#e6d8da"/>
<circle cx="328.93" cy="104.35" r="1.75" fill="#c9a0a6" stroke="#b89098" stroke-width="0.6"/>
<circle cx="348.79" cy="104.35" r="5.30" fill="#f2dada"/>
<circle cx="348.79" cy="104.35" r="3.95" fill="#d65c5c" stroke="#b84848" stroke-width="0.6"/>
<circle cx="368.65" cy="104.35" r="9.60" fill="#f7dcdc"/>
<circle cx="368.65" cy="104.35" r="8.25" fill="#e42a2a" stroke="#c42222" stroke-width="0.6"/>
<circle cx="388.51" cy="104.35" r="5.70" fill="#f2dada"/>
<circle cx="388.51" cy="104.35" r="4.35" fill="#d65c5c" stroke="#b84848" stroke-width="0.6"/>
<circle cx="408.37" cy="104.35" r="3.10" fill="#e6d8da"/>
<circle cx="408.37" cy="104.35" r="1.75" fill="#c9a0a6" stroke="#b89098" stroke-width="0.6"/>
<circle cx="328.93" cy="123.85" r="3.90" fill="#e2e2ee"/>
<circle cx="328.93" cy="123.85" r="2.55" fill="#8a8ac8" stroke="#7878b0" stroke-width="0.6"/>
<circle cx="368.65" cy="123.85" r="0.8" fill="#b0b0b0"/>
<circle cx="388.51" cy="123.85" r="0.8" fill="#b0b0b0"/>
<circle cx="408.37" cy="123.85" r="3.30" fill="#e6d8da"/>
<circle cx="408.37" cy="123.85" r="1.95" fill="#c9a0a6" stroke="#b89098" stroke-width="0.6"/>
<circle cx="348.79" cy="143.35" r="8.00" fill="#f7dcdc"/>
<circle cx="348.79" cy="143.35" r="6.65" fill="#e42a2a" stroke="#c42222" stroke-width="0.6"/>
<circle cx="368.65" cy="143.35" r="3.70" fill="#e6d8da"/>
<circle cx="368.65" cy="143.35" r="2.35" fill="#c9a0a6" stroke="#b89098" stroke-width="0.6"/>
<circle cx="388.51" cy="143.35" r="3.30" fill="#e6d8da"/>
<circle cx="388.51" cy="143.35" r="1.95" fill="#c9a0a6" stroke="#b89098" stroke-width="0.6"/>
<circle cx="408.37" cy="143.35" r="7.10" fill="#f5d8d8"/>
<circle cx="408.37" cy="143.35" r="5.75" fill="#dc3a3a" stroke="#b02a2a" stroke-width="0.6"/>
<circle cx="448.09" cy="143.35" r="0.8" fill="#b0b0b0"/>
<circle cx="328.93" cy="162.85" r="3.50" fill="#e2e2ee"/>
<circle cx="328.93" cy="162.85" r="2.15" fill="#8a8ac8" stroke="#7878b0" stroke-width="0.6"/>
<circle cx="348.79" cy="162.85" r="3.70" fill="#e6d8da"/>
<circle cx="348.79" cy="162.85" r="2.35" fill="#c9a0a6" stroke="#b89098" stroke-width="0.6"/>
<circle cx="368.65" cy="162.85" r="11.10" fill="#e8eaf6"/>
<circle cx="368.65" cy="162.85" r="9.75" fill="#2f4ea3" stroke="#283f8a" stroke-width="0.6"/>
<circle cx="408.37" cy="162.85" r="3.70" fill="#e6d8da"/>
<circle cx="408.37" cy="162.85" r="2.35" fill="#c9a0a6" stroke="#b89098" stroke-width="0.6"/>
<circle cx="448.09" cy="162.85" r="8.30" fill="#f7dcdc"/>
<circle cx="448.09" cy="162.85" r="6.95" fill="#e42a2a" stroke="#c42222" stroke-width="0.6"/>
<circle cx="328.93" cy="182.35" r="3.50" fill="#e2e2ee"/>
<circle cx="328.93" cy="182.35" r="2.15" fill="#8a8ac8" stroke="#7878b0" stroke-width="0.6"/>
<circle cx="348.79" cy="182.35" r="5.10" fill="#f2dada"/>
<circle cx="348.79" cy="182.35" r="3.75" fill="#d65c5c" stroke="#b84848" stroke-width="0.6"/>
<circle cx="368.65" cy="182.35" r="3.30" fill="#e6d8da"/>
<circle cx="368.65" cy="182.35" r="1.95" fill="#c9a0a6" stroke="#b89098" stroke-width="0.6"/>
<circle cx="388.51" cy="182.35" r="3.30" fill="#e6d8da"/>
<circle cx="388.51" cy="182.35" r="1.95" fill="#c9a0a6" stroke="#b89098" stroke-width="0.6"/>
<circle cx="408.37" cy="182.35" r="8.30" fill="#f7dcdc"/>
<circle cx="408.37" cy="182.35" r="6.95" fill="#e42a2a" stroke="#c42222" stroke-width="0.6"/>
<circle cx="428.23" cy="182.35" r="1.0" fill="#b0b0b0"/>
<circle cx="448.09" cy="182.35" r="5.90" fill="#f2dada"/>
<circle cx="448.09" cy="182.35" r="4.55" fill="#d65c5c" stroke="#b84848" stroke-width="0.6"/>
<circle cx="467.95" cy="182.35" r="10.40" fill="#f7dcdc"/>
<circle cx="467.95" cy="182.35" r="9.05" fill="#e42a2a" stroke="#c42222" stroke-width="0.6"/>
<circle cx="328.93" cy="201.85" r="3.10" fill="#e0e0e0"/>
<circle cx="328.93" cy="201.85" r="1.75" fill="#a8a0b8" stroke="#a8a0b8" stroke-width="0.6"/>
<circle cx="348.79" cy="201.85" r="1.2" fill="#b0b0b0"/>
<circle cx="368.65" cy="201.85" r="10.60" fill="#e8eaf6"/>
<circle cx="368.65" cy="201.85" r="9.25" fill="#2f4ea3" stroke="#283f8a" stroke-width="0.6"/>
<circle cx="408.37" cy="201.85" r="3.30" fill="#e6d8da"/>
<circle cx="408.37" cy="201.85" r="1.95" fill="#c9a0a6" stroke="#b89098" stroke-width="0.6"/>
<circle cx="428.23" cy="201.85" r="0.9" fill="#b0b0b0"/>
<circle cx="467.95" cy="201.85" r="0.9" fill="#b0b0b0"/>
<path d="M317.2,14.8V212.8H518.5" fill="none" stroke="#333" stroke-width="1"/>
<path d="M314.6,26.35H317.2" stroke="#333" stroke-width="0.8"/>
<text transform="translate(313.40,29.05) scale(0.92,1)" font-size="8.370" fill="#2a2a2a" text-anchor="end" font-weight="normal" stroke="#2a2a2a" stroke-width="0.098" >Foretinib</text>
<path d="M314.6,45.85H317.2" stroke="#333" stroke-width="0.8"/>
<text transform="translate(313.40,48.55) scale(0.92,1)" font-size="8.370" fill="#2a2a2a" text-anchor="end" font-weight="normal" stroke="#2a2a2a" stroke-width="0.098" >Afatinib</text>
<path d="M314.6,65.35H317.2" stroke="#333" stroke-width="0.8"/>
<text transform="translate(313.40,68.05) scale(0.92,1)" font-size="8.370" fill="#2a2a2a" text-anchor="end" font-weight="normal" stroke="#2a2a2a" stroke-width="0.098" >Austocystin D</text>
<path d="M314.6,84.85H317.2" stroke="#333" stroke-width="0.8"/>
<text transform="translate(313.40,87.55) scale(0.92,1)" font-size="8.370" fill="#2a2a2a" text-anchor="end" font-weight="normal" stroke="#2a2a2a" stroke-width="0.098" >Entinostat</text>
<path d="M314.6,104.35H317.2" stroke="#333" stroke-width="0.8"/>
<text transform="translate(313.40,107.05) scale(0.92,1)" font-size="8.370" fill="#2a2a2a" text-anchor="end" font-weight="normal" stroke="#2a2a2a" stroke-width="0.098" >Navitoclax</text>
<path d="M314.6,123.85H317.2" stroke="#333" stroke-width="0.8"/>
<text transform="translate(313.40,126.55) scale(0.92,1)" font-size="8.370" fill="#2a2a2a" text-anchor="end" font-weight="normal" stroke="#2a2a2a" stroke-width="0.098" >Nutlin-3</text>
<path d="M314.6,143.35H317.2" stroke="#333" stroke-width="0.8"/>
<text transform="translate(313.40,146.05) scale(0.92,1)" font-size="8.370" fill="#2a2a2a" text-anchor="end" font-weight="normal" stroke="#2a2a2a" stroke-width="0.098" >Selumetinib</text>
<path d="M314.6,162.85H317.2" stroke="#333" stroke-width="0.8"/>
<text transform="translate(313.40,165.55) scale(0.92,1)" font-size="8.370" fill="#2a2a2a" text-anchor="end" font-weight="normal" stroke="#2a2a2a" stroke-width="0.098" >Dasatinib</text>
<path d="M314.6,182.35H317.2" stroke="#333" stroke-width="0.8"/>
<text transform="translate(313.40,185.05) scale(0.92,1)" font-size="8.370" fill="#2a2a2a" text-anchor="end" font-weight="normal" stroke="#2a2a2a" stroke-width="0.098" >BMS-754807</text>
<path d="M314.6,201.85H317.2" stroke="#333" stroke-width="0.8"/>
<text transform="translate(313.40,204.55) scale(0.92,1)" font-size="8.370" fill="#2a2a2a" text-anchor="end" font-weight="normal" stroke="#2a2a2a" stroke-width="0.098" >Crizotinib</text>
<path d="M328.93,212.8V215.4" stroke="#333" stroke-width="0.8"/>
<text transform="translate(333.93,222.30) rotate(-45) scale(0.92,1)" font-size="8.370" fill="#2a2a2a" text-anchor="end" font-weight="normal" stroke="#2a2a2a" stroke-width="0.098" >Foretinib</text>
<path d="M348.79,212.8V215.4" stroke="#333" stroke-width="0.8"/>
<text transform="translate(353.79,222.30) rotate(-45) scale(0.92,1)" font-size="8.370" fill="#2a2a2a" text-anchor="end" font-weight="normal" stroke="#2a2a2a" stroke-width="0.098" >Afatinib</text>
<path d="M368.65,212.8V215.4" stroke="#333" stroke-width="0.8"/>
<text transform="translate(373.65,222.30) rotate(-45) scale(0.92,1)" font-size="8.370" fill="#2a2a2a" text-anchor="end" font-weight="normal" stroke="#2a2a2a" stroke-width="0.098" >Austocystin D</text>
<path d="M388.51,212.8V215.4" stroke="#333" stroke-width="0.8"/>
<text transform="translate(393.51,222.30) rotate(-45) scale(0.92,1)" font-size="8.370" fill="#2a2a2a" text-anchor="end" font-weight="normal" stroke="#2a2a2a" stroke-width="0.098" >Entinostat</text>
<path d="M408.37,212.8V215.4" stroke="#333" stroke-width="0.8"/>
<text transform="translate(413.37,222.30) rotate(-45) scale(0.92,1)" font-size="8.370" fill="#2a2a2a" text-anchor="end" font-weight="normal" stroke="#2a2a2a" stroke-width="0.098" >Navitoclax</text>
<path d="M428.23,212.8V215.4" stroke="#333" stroke-width="0.8"/>
<text transform="translate(433.23,222.30) rotate(-45) scale(0.92,1)" font-size="8.370" fill="#2a2a2a" text-anchor="end" font-weight="normal" stroke="#2a2a2a" stroke-width="0.098" >Nutlin-3</text>
<path d="M448.09,212.8V215.4" stroke="#333" stroke-width="0.8"/>
<text transform="translate(453.09,222.30) rotate(-45) scale(0.92,1)" font-size="8.370" fill="#2a2a2a" text-anchor="end" font-weight="normal" stroke="#2a2a2a" stroke-width="0.098" >Selumetinib</text>
<path d="M467.95,212.8V215.4" stroke="#333" stroke-width="0.8"/>
<text transform="translate(472.95,222.30) rotate(-45) scale(0.92,1)" font-size="8.370" fill="#2a2a2a" text-anchor="end" font-weight="normal" stroke="#2a2a2a" stroke-width="0.098" >Dasatinib</text>
<path d="M487.81,212.8V215.4" stroke="#333" stroke-width="0.8"/>
<text transform="translate(492.81,222.30) rotate(-45) scale(0.92,1)" font-size="8.370" fill="#2a2a2a" text-anchor="end" font-weight="normal" stroke="#2a2a2a" stroke-width="0.098" >BMS-754807</text>
<path d="M507.67,212.8V215.4" stroke="#333" stroke-width="0.8"/>
<text transform="translate(512.67,222.30) rotate(-45) scale(0.92,1)" font-size="8.370" fill="#2a2a2a" text-anchor="end" font-weight="normal" stroke="#2a2a2a" stroke-width="0.098" >Crizotinib</text>
<text transform="translate(470.00,16.80) scale(0.92,1)" font-size="7.174" fill="#333" text-anchor="middle" font-weight="normal" stroke="#333" stroke-width="0.098" >Interaction score</text>
<text transform="translate(438.60,26.40) scale(0.92,1)" font-size="7.174" fill="#333" text-anchor="start" font-weight="normal" stroke="#333" stroke-width="0.098" >Direction</text>
<text transform="translate(476.60,26.40) scale(0.92,1)" font-size="7.174" fill="#333" text-anchor="start" font-weight="normal" stroke="#333" stroke-width="0.098" >Strength</text>
<defs><linearGradient id="cb" x1="0" y1="0" x2="0" y2="1"><stop offset="0" stop-color="#34489c"/><stop offset="0.25" stop-color="#6270b8"/><stop offset="0.5" stop-color="#c0bcc2"/><stop offset="0.75" stop-color="#e36e72"/><stop offset="1" stop-color="#e8202a"/></linearGradient></defs>
<rect x="438.1" y="30.2" width="11.9" height="61.2" fill="url(#cb)"/>
<text transform="translate(453.80,36.30) scale(0.92,1)" font-size="7.174" fill="#333" text-anchor="start" font-weight="normal" stroke="#333" stroke-width="0.098" >0.6</text>
<text transform="translate(453.80,50.30) scale(0.92,1)" font-size="7.174" fill="#333" text-anchor="start" font-weight="normal" stroke="#333" stroke-width="0.098" >0.3</text>
<text transform="translate(453.80,63.80) scale(0.92,1)" font-size="7.174" fill="#333" text-anchor="start" font-weight="normal" stroke="#333" stroke-width="0.098" >0.0</text>
<text transform="translate(453.80,78.30) scale(0.92,1)" font-size="7.174" fill="#333" text-anchor="start" font-weight="normal" stroke="#333" stroke-width="0.098" >−0.3</text>
<text transform="translate(453.80,91.80) scale(0.92,1)" font-size="7.174" fill="#333" text-anchor="start" font-weight="normal" stroke="#333" stroke-width="0.098" >−0.6</text>
<text transform="translate(436.20,34.90) scale(0.92,1)" font-size="7.174" fill="#333" text-anchor="end" font-weight="normal" stroke="#333" stroke-width="0.098" >Antagonistic</text>
<text transform="translate(436.20,89.40) scale(0.92,1)" font-size="7.174" fill="#333" text-anchor="end" font-weight="normal" stroke="#333" stroke-width="0.098" >Synergistic</text>
<circle cx="481.6" cy="32.2" r="1.1" fill="#989898" stroke="#7c7c7c" stroke-width="0.6"/>
<text transform="translate(491.30,34.60) scale(0.92,1)" font-size="7.174" fill="#333" text-anchor="start" font-weight="normal" stroke="#333" stroke-width="0.098" >0.1</text>
<circle cx="481.6" cy="38.6" r="2.3" fill="#989898" stroke="#7c7c7c" stroke-width="0.6"/>
<text transform="translate(491.30,41.00) scale(0.92,1)" font-size="7.174" fill="#333" text-anchor="start" font-weight="normal" stroke="#333" stroke-width="0.098" >0.2</text>
<circle cx="481.6" cy="46.2" r="3.4" fill="#989898" stroke="#7c7c7c" stroke-width="0.6"/>
<text transform="translate(491.30,48.60) scale(0.92,1)" font-size="7.174" fill="#333" text-anchor="start" font-weight="normal" stroke="#333" stroke-width="0.098" >0.3</text>
<circle cx="481.6" cy="57.1" r="4.5" fill="#989898" stroke="#7c7c7c" stroke-width="0.6"/>
<text transform="translate(491.30,59.50) scale(0.92,1)" font-size="7.174" fill="#333" text-anchor="start" font-weight="normal" stroke="#333" stroke-width="0.098" >0.4</text>
<circle cx="481.6" cy="71.3" r="5.6" fill="#989898" stroke="#7c7c7c" stroke-width="0.6"/>
<text transform="translate(491.30,73.70) scale(0.92,1)" font-size="7.174" fill="#333" text-anchor="start" font-weight="normal" stroke="#333" stroke-width="0.098" >0.5</text>
<circle cx="481.6" cy="87.7" r="6.8" fill="#989898" stroke="#7c7c7c" stroke-width="0.6"/>
<text transform="translate(491.30,90.10) scale(0.92,1)" font-size="7.174" fill="#333" text-anchor="start" font-weight="normal" stroke="#333" stroke-width="0.098" >0.6</text>
<text transform="translate(0.60,268.70) scale(1,1)" font-size="10.300" fill="#111" text-anchor="start" font-weight="bold" stroke="#111" stroke-width="0.25">D</text>
<path d="M36.0,276.80V361.4H163.6" fill="none" stroke="#444" stroke-width="1"/>
<path d="M32.4,361.40H36.0" stroke="#444" stroke-width="0.9"/>
<text transform="translate(31.00,364.60) scale(0.92,1)" font-size="8.261" fill="#333" text-anchor="end" font-weight="normal" stroke="#333" stroke-width="0.098" >0</text>
<path d="M32.4,344.48H36.0" stroke="#444" stroke-width="0.9"/>
<text transform="translate(31.00,347.68) scale(0.92,1)" font-size="8.261" fill="#333" text-anchor="end" font-weight="normal" stroke="#333" stroke-width="0.098" >20</text>
<path d="M32.4,327.56H36.0" stroke="#444" stroke-width="0.9"/>
<text transform="translate(31.00,330.76) scale(0.92,1)" font-size="8.261" fill="#333" text-anchor="end" font-weight="normal" stroke="#333" stroke-width="0.098" >40</text>
<path d="M32.4,310.64H36.0" stroke="#444" stroke-width="0.9"/>
<text transform="translate(31.00,313.84) scale(0.92,1)" font-size="8.261" fill="#333" text-anchor="end" font-weight="normal" stroke="#333" stroke-width="0.098" >60</text>
<path d="M32.4,293.72H36.0" stroke="#444" stroke-width="0.9"/>
<text transform="translate(31.00,296.92) scale(0.92,1)" font-size="8.261" fill="#333" text-anchor="end" font-weight="normal" stroke="#333" stroke-width="0.098" >80</text>
<path d="M32.4,276.80H36.0" stroke="#444" stroke-width="0.9"/>
<text transform="translate(31.00,280.00) scale(0.92,1)" font-size="8.261" fill="#333" text-anchor="end" font-weight="normal" stroke="#333" stroke-width="0.098" >100</text>
<path d="M45.80,361.4V364.59999999999997" stroke="#444" stroke-width="0.9"/>
<text transform="translate(50.00,373.00) scale(0.92,1)" font-size="8.261" fill="#333" text-anchor="end" font-weight="normal" stroke="#333" stroke-width="0.098" >−10</text>
<path d="M84.90,361.4V364.59999999999997" stroke="#444" stroke-width="0.9"/>
<text transform="translate(87.00,373.00) scale(0.92,1)" font-size="8.261" fill="#333" text-anchor="end" font-weight="normal" stroke="#333" stroke-width="0.098" >−8</text>
<path d="M124.00,361.4V364.59999999999997" stroke="#444" stroke-width="0.9"/>
<text transform="translate(126.10,373.00) scale(0.92,1)" font-size="8.261" fill="#333" text-anchor="end" font-weight="normal" stroke="#333" stroke-width="0.098" >−6</text>
<path d="M163.10,361.4V364.59999999999997" stroke="#444" stroke-width="0.9"/>
<text transform="translate(165.20,373.00) scale(0.92,1)" font-size="8.261" fill="#333" text-anchor="end" font-weight="normal" stroke="#333" stroke-width="0.098" >−4</text>
<text transform="translate(99.20,382.00) scale(0.92,1)" font-size="8.478" fill="#333" text-anchor="middle" font-weight="normal" stroke="#333" stroke-width="0.098" >[BMS-754807] (log mol/L)</text>
<text transform="translate(14.30,319.20) rotate(-90) scale(1,1)" font-size="7.850" fill="#333" text-anchor="middle" font-weight="normal" stroke="#333" stroke-width="0.090" >Viability (% DMSO)</text>
<path d="M45.80,289.66 L47.62,291.57 L49.44,293.50 L51.27,295.44 L53.09,297.40 L54.91,299.35 L56.73,301.31 L58.56,303.26 L60.38,305.21 L62.20,307.14 L64.02,309.06 L65.85,310.95 L67.67,312.82 L69.49,314.66 L71.31,316.47 L73.14,318.25 L74.96,319.99 L76.78,321.68 L78.60,323.34 L80.43,324.95 L82.25,326.51 L84.07,328.03 L85.89,329.50 L87.72,330.91 L89.54,332.28 L91.36,333.60 L93.18,334.87 L95.01,336.08 L96.83,337.25 L98.65,338.37 L100.47,339.44 L102.30,340.46 L104.12,341.44 L105.94,342.36 L107.76,343.25 L109.59,344.09 L111.41,344.89 L113.23,345.65 L115.05,346.37 L116.88,347.05 L118.70,347.70 L120.52,348.31 L122.34,348.89 L124.17,349.44 L125.99,349.95 L127.81,350.44 L129.63,350.90 L131.46,351.34 L133.28,351.74 L135.10,352.13 L136.92,352.49 L138.75,352.83 L140.57,353.15 L142.39,353.46 L144.21,353.74 L146.04,354.01 L147.86,354.26 L149.68,354.49 L151.50,354.71 L153.32,354.92" fill="none" stroke="#767676" stroke-width="1.5" stroke-linejoin="round"/>
<path d="M45.80,286.49V292.49M44.50,286.49H47.10M44.50,292.49H47.10" stroke="#767676" stroke-width="0.7"/>
<rect x="44.90" y="288.59" width="1.80" height="1.80" fill="#767676"/>
<path d="M55.57,298.64V300.64M54.27,298.64H56.87M54.27,300.64H56.87" stroke="#767676" stroke-width="0.7"/>
<rect x="54.67" y="298.74" width="1.80" height="1.80" fill="#767676"/>
<path d="M65.35,310.68V315.68M64.05,310.68H66.65M64.05,315.68H66.65" stroke="#767676" stroke-width="0.7"/>
<rect x="64.45" y="312.28" width="1.80" height="1.80" fill="#767676"/>
<path d="M75.12,317.45V323.45M73.83,317.45H76.42M73.83,323.45H76.42" stroke="#767676" stroke-width="0.7"/>
<rect x="74.22" y="319.55" width="1.80" height="1.80" fill="#767676"/>
<path d="M84.90,328.60V331.60M83.60,328.60H86.20M83.60,331.60H86.20" stroke="#767676" stroke-width="0.7"/>
<rect x="84.00" y="329.20" width="1.80" height="1.80" fill="#767676"/>
<path d="M94.67,336.77V339.17M93.38,336.77H95.97M93.38,339.17H95.97" stroke="#767676" stroke-width="0.7"/>
<rect x="93.77" y="337.07" width="1.80" height="1.80" fill="#767676"/>
<path d="M104.45,342.63V344.63M103.15,342.63H105.75M103.15,344.63H105.75" stroke="#767676" stroke-width="0.7"/>
<rect x="103.55" y="342.73" width="1.80" height="1.80" fill="#767676"/>
<path d="M114.22,343.90V345.90M112.92,343.90H115.52M112.92,345.90H115.52" stroke="#767676" stroke-width="0.7"/>
<rect x="113.32" y="344.00" width="1.80" height="1.80" fill="#767676"/>
<rect x="123.10" y="340.20" width="1.80" height="1.80" fill="#767676"/>
<rect x="132.88" y="349.50" width="1.80" height="1.80" fill="#767676"/>
<rect x="142.65" y="352.04" width="1.80" height="1.80" fill="#767676"/>
<rect x="152.42" y="353.73" width="1.80" height="1.80" fill="#767676"/>
<path d="M45.80,305.70 L47.62,306.75 L49.44,307.87 L51.27,309.05 L53.09,310.29 L54.91,311.59 L56.73,312.95 L58.56,314.36 L60.38,315.81 L62.20,317.31 L64.02,318.84 L65.85,320.41 L67.67,322.00 L69.49,323.61 L71.31,325.22 L73.14,326.84 L74.96,328.45 L76.78,330.04 L78.60,331.62 L80.43,333.16 L82.25,334.67 L84.07,336.13 L85.89,337.55 L87.72,338.92 L89.54,340.23 L91.36,341.48 L93.18,342.67 L95.01,343.81 L96.83,344.88 L98.65,345.89 L100.47,346.84 L102.30,347.73 L104.12,348.56 L105.94,349.33 L107.76,350.05 L109.59,350.72 L111.41,351.34 L113.23,351.91 L115.05,352.44 L116.88,352.92 L118.70,353.37 L120.52,353.78 L122.34,354.15 L124.17,354.50 L125.99,354.81 L127.81,355.10 L129.63,355.37 L131.46,355.61 L133.28,355.83 L135.10,356.03 L136.92,356.21 L138.75,356.38 L140.57,356.53 L142.39,356.66 L144.21,356.79 L146.04,356.90 L147.86,357.01 L149.68,357.10 L151.50,357.19 L153.32,357.26" fill="none" stroke="#941c44" stroke-width="1.7" stroke-linejoin="round"/>
<path d="M45.80,303.56V307.56M44.50,303.56H47.10M44.50,307.56H47.10" stroke="#941c44" stroke-width="0.7"/>
<rect x="44.80" y="304.56" width="2.00" height="2.00" fill="#941c44"/>
<path d="M55.57,309.99V312.99M54.27,309.99H56.87M54.27,312.99H56.87" stroke="#941c44" stroke-width="0.7"/>
<rect x="54.57" y="310.49" width="2.00" height="2.00" fill="#941c44"/>
<path d="M65.35,320.21V322.21M64.05,320.21H66.65M64.05,322.21H66.65" stroke="#941c44" stroke-width="0.7"/>
<rect x="64.35" y="320.21" width="2.00" height="2.00" fill="#941c44"/>
<path d="M75.12,328.42V330.42M73.83,328.42H76.42M73.83,330.42H76.42" stroke="#941c44" stroke-width="0.7"/>
<rect x="74.12" y="328.42" width="2.00" height="2.00" fill="#941c44"/>
<path d="M84.90,338.40V340.40M83.60,338.40H86.20M83.60,340.40H86.20" stroke="#941c44" stroke-width="0.7"/>
<rect x="83.90" y="338.40" width="2.00" height="2.00" fill="#941c44"/>
<path d="M94.67,345.37V346.97M93.38,345.37H95.97M93.38,346.97H95.97" stroke="#941c44" stroke-width="0.7"/>
<rect x="93.67" y="345.17" width="2.00" height="2.00" fill="#941c44"/>
<path d="M104.45,351.12V352.72M103.15,351.12H105.75M103.15,352.72H105.75" stroke="#941c44" stroke-width="0.7"/>
<rect x="103.45" y="350.92" width="2.00" height="2.00" fill="#941c44"/>
<path d="M114.22,352.14V353.74M112.92,352.14H115.52M112.92,353.74H115.52" stroke="#941c44" stroke-width="0.7"/>
<rect x="113.22" y="351.94" width="2.00" height="2.00" fill="#941c44"/>
<path d="M124.00,353.58V355.18M122.70,353.58H125.30M122.70,355.18H125.30" stroke="#941c44" stroke-width="0.7"/>
<rect x="123.00" y="353.38" width="2.00" height="2.00" fill="#941c44"/>
<path d="M133.78,355.82V356.82M132.47,355.82H135.08M132.47,356.82H135.08" stroke="#941c44" stroke-width="0.7"/>
<rect x="132.78" y="355.32" width="2.00" height="2.00" fill="#941c44"/>
<path d="M143.55,356.67V357.67M142.25,356.67H144.85M142.25,357.67H144.85" stroke="#941c44" stroke-width="0.7"/>
<rect x="142.55" y="356.17" width="2.00" height="2.00" fill="#941c44"/>
<path d="M153.32,357.09V358.09M152.02,357.09H154.62M152.02,358.09H154.62" stroke="#941c44" stroke-width="0.7"/>
<rect x="152.32" y="356.59" width="2.00" height="2.00" fill="#941c44"/>
<path d="M45.80,286.93 L47.62,287.55 L49.44,288.18 L51.27,288.82 L53.09,289.46 L54.91,290.12 L56.73,290.79 L58.56,291.47 L60.38,292.16 L62.20,292.86 L64.02,293.57 L65.85,294.29 L67.67,295.03 L69.49,295.78 L71.31,296.53 L73.14,297.30 L74.96,298.09 L76.78,298.88 L78.60,299.69 L80.43,300.51 L82.25,301.34 L84.07,302.19 L85.89,303.05 L87.72,303.92 L89.54,304.81 L91.36,305.71 L93.18,306.63 L95.01,307.56 L96.83,308.50 L98.65,309.46 L100.47,310.44 L102.30,311.43 L104.12,312.44 L105.94,313.46 L107.76,314.50 L109.59,315.55 L111.41,316.62 L113.23,317.71 L115.05,318.82 L116.88,319.94 L118.70,321.09 L120.52,322.25 L122.34,323.42 L124.17,324.62 L125.99,325.84 L127.81,327.07 L129.63,328.33 L131.46,329.60 L133.28,330.90 L135.10,332.21 L136.92,333.55 L138.75,334.90 L140.57,336.28 L142.39,337.68 L144.21,339.11 L146.04,340.55 L147.86,342.02 L149.68,343.51 L151.50,345.03 L153.32,346.57" fill="none" stroke="#111" stroke-width="1.8" stroke-linejoin="round"/>
<path d="M45.80,283.45V290.45M44.50,283.45H47.10M44.50,290.45H47.10" stroke="#111" stroke-width="0.7"/>
<rect x="44.60" y="285.75" width="2.40" height="2.40" fill="#111"/>
<path d="M55.57,281.26V289.26M54.27,281.26H56.87M54.27,289.26H56.87" stroke="#111" stroke-width="0.7"/>
<rect x="54.37" y="284.06" width="2.40" height="2.40" fill="#111"/>
<path d="M65.35,291.99V297.99M64.05,291.99H66.65M64.05,297.99H66.65" stroke="#111" stroke-width="0.7"/>
<rect x="64.15" y="293.79" width="2.40" height="2.40" fill="#111"/>
<path d="M75.12,297.48V302.48M73.83,297.48H76.42M73.83,302.48H76.42" stroke="#111" stroke-width="0.7"/>
<rect x="73.92" y="298.78" width="2.40" height="2.40" fill="#111"/>
<path d="M84.90,301.87V305.87M83.60,301.87H86.20M83.60,305.87H86.20" stroke="#111" stroke-width="0.7"/>
<rect x="83.70" y="302.67" width="2.40" height="2.40" fill="#111"/>
<path d="M94.67,306.45V311.45M93.38,306.45H95.97M93.38,311.45H95.97" stroke="#111" stroke-width="0.7"/>
<rect x="93.47" y="307.75" width="2.40" height="2.40" fill="#111"/>
<path d="M104.45,312.37V317.37M103.15,312.37H105.75M103.15,317.37H105.75" stroke="#111" stroke-width="0.7"/>
<rect x="103.25" y="313.67" width="2.40" height="2.40" fill="#111"/>
<path d="M114.22,321.44V329.44M112.92,321.44H115.52M112.92,329.44H115.52" stroke="#111" stroke-width="0.7"/>
<rect x="113.02" y="324.25" width="2.40" height="2.40" fill="#111"/>
<rect x="122.80" y="318.75" width="2.40" height="2.40" fill="#111"/>
<path d="M133.78,323.90V331.90M132.47,323.90H135.08M132.47,331.90H135.08" stroke="#111" stroke-width="0.7"/>
<rect x="132.58" y="326.70" width="2.40" height="2.40" fill="#111"/>
<path d="M143.55,341.13V346.13M142.25,341.13H144.85M142.25,346.13H144.85" stroke="#111" stroke-width="0.7"/>
<rect x="142.35" y="342.43" width="2.40" height="2.40" fill="#111"/>
<rect x="152.12" y="345.73" width="2.40" height="2.40" fill="#111"/>
<path d="M30.80,395.20H44.00" stroke="#111" stroke-width="1.4"/>
<circle cx="37.40" cy="395.20" r="1.3" fill="#111"/>
<text transform="translate(47.60,397.60) scale(0.92,1)" font-size="7.283" fill="#333" text-anchor="start" font-weight="normal" stroke="#333" stroke-width="0.098" >0 μmol/L dasatinib</text>
<path d="M106.60,395.20H119.80" stroke="#767676" stroke-width="1.4"/>
<circle cx="113.20" cy="395.20" r="1.3" fill="#767676"/>
<text transform="translate(123.60,397.60) scale(0.92,1)" font-size="7.283" fill="#333" text-anchor="start" font-weight="normal" stroke="#333" stroke-width="0.098" >6 μmol/L dasatinib</text>
<path d="M30.80,407.20H44.00" stroke="#941c44" stroke-width="1.4"/>
<circle cx="37.40" cy="407.20" r="1.3" fill="#941c44"/>
<text transform="translate(47.60,409.60) scale(0.92,1)" font-size="7.283" fill="#333" text-anchor="start" font-weight="normal" stroke="#333" stroke-width="0.098" >10 μmol/L dasatinib</text>
<path d="M205.4,278.10V362.2H331.5" fill="none" stroke="#444" stroke-width="1"/>
<path d="M202.2,362.20H205.4" stroke="#444" stroke-width="0.9"/>
<text transform="translate(200.80,365.20) scale(0.92,1)" font-size="8.261" fill="#333" text-anchor="end" font-weight="normal" stroke="#333" stroke-width="0.098" >0</text>
<path d="M202.2,348.18H205.4" stroke="#444" stroke-width="0.9"/>
<text transform="translate(200.80,351.18) scale(0.92,1)" font-size="8.261" fill="#333" text-anchor="end" font-weight="normal" stroke="#333" stroke-width="0.098" >20</text>
<path d="M202.2,334.17H205.4" stroke="#444" stroke-width="0.9"/>
<text transform="translate(200.80,337.17) scale(0.92,1)" font-size="8.261" fill="#333" text-anchor="end" font-weight="normal" stroke="#333" stroke-width="0.098" >40</text>
<path d="M202.2,320.15H205.4" stroke="#444" stroke-width="0.9"/>
<text transform="translate(200.80,323.15) scale(0.92,1)" font-size="8.261" fill="#333" text-anchor="end" font-weight="normal" stroke="#333" stroke-width="0.098" >60</text>
<path d="M202.2,306.14H205.4" stroke="#444" stroke-width="0.9"/>
<text transform="translate(200.80,309.14) scale(0.92,1)" font-size="8.261" fill="#333" text-anchor="end" font-weight="normal" stroke="#333" stroke-width="0.098" >80</text>
<path d="M202.2,292.12H205.4" stroke="#444" stroke-width="0.9"/>
<text transform="translate(200.80,295.12) scale(0.92,1)" font-size="8.261" fill="#333" text-anchor="end" font-weight="normal" stroke="#333" stroke-width="0.098" >100</text>
<path d="M202.2,278.10H205.4" stroke="#444" stroke-width="0.9"/>
<text transform="translate(200.80,281.10) scale(0.92,1)" font-size="8.261" fill="#333" text-anchor="end" font-weight="normal" stroke="#333" stroke-width="0.098" >120</text>
<path d="M216.20,362.2V365.4" stroke="#444" stroke-width="0.9"/>
<text transform="translate(220.70,374.60) scale(0.92,1)" font-size="8.261" fill="#333" text-anchor="end" font-weight="normal" stroke="#333" stroke-width="0.098" >−10</text>
<path d="M258.80,362.2V365.4" stroke="#444" stroke-width="0.9"/>
<text transform="translate(261.10,374.60) scale(0.92,1)" font-size="8.261" fill="#333" text-anchor="end" font-weight="normal" stroke="#333" stroke-width="0.098" >−8</text>
<path d="M301.40,362.2V365.4" stroke="#444" stroke-width="0.9"/>
<text transform="translate(303.70,374.60) scale(0.92,1)" font-size="8.261" fill="#333" text-anchor="end" font-weight="normal" stroke="#333" stroke-width="0.098" >−6</text>
<text transform="translate(269.00,384.00) scale(0.92,1)" font-size="8.478" fill="#333" text-anchor="middle" font-weight="normal" stroke="#333" stroke-width="0.098" >[Selumetinib] (log mol/L)</text>
<text transform="translate(183.30,320.60) rotate(-90) scale(1,1)" font-size="7.700" fill="#333" text-anchor="middle" font-weight="normal" stroke="#333" stroke-width="0.090" >Viability (% DMSO)</text>
<path d="M231.60,309.36 L233.22,309.64 L234.85,309.96 L236.47,310.31 L238.10,310.71 L239.72,311.15 L241.35,311.65 L242.97,312.20 L244.60,312.81 L246.22,313.49 L247.85,314.24 L249.47,315.07 L251.09,315.97 L252.72,316.96 L254.34,318.03 L255.97,319.18 L257.59,320.42 L259.22,321.74 L260.84,323.14 L262.47,324.62 L264.09,326.17 L265.72,327.77 L267.34,329.42 L268.97,331.10 L270.59,332.81 L272.21,334.53 L273.84,336.24 L275.46,337.93 L277.09,339.58 L278.71,341.19 L280.34,342.75 L281.96,344.23 L283.59,345.65 L285.21,346.98 L286.84,348.23 L288.46,349.40 L290.08,350.48 L291.71,351.48 L293.33,352.39 L294.96,353.22 L296.58,353.98 L298.21,354.67 L299.83,355.30 L301.46,355.86 L303.08,356.36 L304.71,356.81 L306.33,357.21 L307.96,357.57 L309.58,357.89 L311.20,358.18 L312.83,358.43 L314.45,358.65 L316.08,358.85 L317.70,359.03 L319.33,359.18 L320.95,359.32 L322.58,359.44 L324.20,359.55 L325.83,359.64 L327.45,359.73" fill="none" stroke="#989898" stroke-width="1.5" stroke-linejoin="round"/>
<rect x="230.70" y="308.53" width="1.80" height="1.80" fill="#989898"/>
<path d="M242.25,311.50V314.50M240.95,311.50H243.55M240.95,314.50H243.55" stroke="#989898" stroke-width="0.7"/>
<rect x="241.35" y="312.10" width="1.80" height="1.80" fill="#989898"/>
<path d="M252.90,314.24V317.24M251.60,314.24H254.20M251.60,317.24H254.20" stroke="#989898" stroke-width="0.7"/>
<rect x="252.00" y="314.84" width="1.80" height="1.80" fill="#989898"/>
<rect x="262.65" y="324.79" width="1.80" height="1.80" fill="#989898"/>
<rect x="273.30" y="337.47" width="1.80" height="1.80" fill="#989898"/>
<rect x="283.95" y="345.32" width="1.80" height="1.80" fill="#989898"/>
<rect x="294.60" y="352.33" width="1.80" height="1.80" fill="#989898"/>
<rect x="305.25" y="355.90" width="1.80" height="1.80" fill="#989898"/>
<rect x="315.90" y="358.08" width="1.80" height="1.80" fill="#989898"/>
<rect x="326.55" y="359.27" width="1.80" height="1.80" fill="#989898"/>
<path d="M231.60,351.99 L233.22,352.19 L234.85,352.41 L236.47,352.66 L238.10,352.93 L239.72,353.24 L241.35,353.58 L242.97,353.96 L244.60,354.36 L246.22,354.78 L247.85,355.23 L249.47,355.70 L251.09,356.17 L252.72,356.65 L254.34,357.13 L255.97,357.59 L257.59,358.05 L259.22,358.48 L260.84,358.88 L262.47,359.26 L264.09,359.60 L265.72,359.92 L267.34,360.20 L268.97,360.45 L270.59,360.68 L272.21,360.87 L273.84,361.05 L275.46,361.20 L277.09,361.33 L278.71,361.44 L280.34,361.54 L281.96,361.62 L283.59,361.69 L285.21,361.75 L286.84,361.80 L288.46,361.85 L290.08,361.88 L291.71,361.92 L293.33,361.94 L294.96,361.97 L296.58,361.99 L298.21,362.00 L299.83,362.02 L301.46,362.03 L303.08,362.04 L304.71,362.05 L306.33,362.05 L307.96,362.06 L309.58,362.06 L311.20,362.07 L312.83,362.07 L314.45,362.08 L316.08,362.08 L317.70,362.08 L319.33,362.08 L320.95,362.08 L322.58,362.08 L324.20,362.09 L325.83,362.09 L327.45,362.09" fill="none" stroke="#2d3f98" stroke-width="1.6" stroke-linejoin="round"/>
<path d="M231.60,350.33V353.33M230.30,350.33H232.90M230.30,353.33H232.90" stroke="#2d3f98" stroke-width="0.7"/>
<rect x="230.50" y="350.73" width="2.20" height="2.20" fill="#2d3f98"/>
<path d="M242.25,352.70V356.70M240.95,352.70H243.55M240.95,356.70H243.55" stroke="#2d3f98" stroke-width="0.7"/>
<rect x="241.15" y="353.60" width="2.20" height="2.20" fill="#2d3f98"/>
<path d="M252.90,354.03V358.03M251.60,354.03H254.20M251.60,358.03H254.20" stroke="#2d3f98" stroke-width="0.7"/>
<rect x="251.80" y="354.93" width="2.20" height="2.20" fill="#2d3f98"/>
<rect x="262.45" y="358.51" width="2.20" height="2.20" fill="#2d3f98"/>
<rect x="273.10" y="360.61" width="2.20" height="2.20" fill="#2d3f98"/>
<rect x="283.75" y="360.89" width="2.20" height="2.20" fill="#2d3f98"/>
<rect x="294.40" y="360.96" width="2.20" height="2.20" fill="#2d3f98"/>
<rect x="305.05" y="360.96" width="2.20" height="2.20" fill="#2d3f98"/>
<rect x="315.70" y="360.96" width="2.20" height="2.20" fill="#2d3f98"/>
<rect x="326.35" y="360.96" width="2.20" height="2.20" fill="#2d3f98"/>
<path d="M231.60,330.80 L233.22,331.13 L234.85,331.49 L236.47,331.88 L238.10,332.30 L239.72,332.76 L241.35,333.25 L242.97,333.77 L244.60,334.33 L246.22,334.92 L247.85,335.55 L249.47,336.21 L251.09,336.91 L252.72,337.65 L254.34,338.41 L255.97,339.21 L257.59,340.03 L259.22,340.87 L260.84,341.73 L262.47,342.61 L264.09,343.50 L265.72,344.40 L267.34,345.30 L268.97,346.20 L270.59,347.08 L272.21,347.96 L273.84,348.82 L275.46,349.65 L277.09,350.47 L278.71,351.25 L280.34,352.01 L281.96,352.73 L283.59,353.42 L285.21,354.07 L286.84,354.69 L288.46,355.27 L290.08,355.82 L291.71,356.33 L293.33,356.81 L294.96,357.25 L296.58,357.66 L298.21,358.04 L299.83,358.40 L301.46,358.72 L303.08,359.02 L304.71,359.29 L306.33,359.54 L307.96,359.77 L309.58,359.98 L311.20,360.17 L312.83,360.35 L314.45,360.51 L316.08,360.65 L317.70,360.78 L319.33,360.90 L320.95,361.01 L322.58,361.11 L324.20,361.20 L325.83,361.28 L327.45,361.35" fill="none" stroke="#941c44" stroke-width="1.7" stroke-linejoin="round"/>
<path d="M231.60,327.96V331.96M230.30,327.96H232.90M230.30,331.96H232.90" stroke="#941c44" stroke-width="0.7"/>
<rect x="230.50" y="328.86" width="2.20" height="2.20" fill="#941c44"/>
<path d="M242.25,333.22V337.22M240.95,333.22H243.55M240.95,337.22H243.55" stroke="#941c44" stroke-width="0.7"/>
<rect x="241.15" y="334.12" width="2.20" height="2.20" fill="#941c44"/>
<path d="M252.90,336.87V339.87M251.60,336.87H254.20M251.60,339.87H254.20" stroke="#941c44" stroke-width="0.7"/>
<rect x="251.80" y="337.27" width="2.20" height="2.20" fill="#941c44"/>
<path d="M263.55,340.10V343.10M262.25,340.10H264.85M262.25,343.10H264.85" stroke="#941c44" stroke-width="0.7"/>
<rect x="262.45" y="340.50" width="2.20" height="2.20" fill="#941c44"/>
<path d="M274.20,348.02V350.02M272.90,348.02H275.50M272.90,350.02H275.50" stroke="#941c44" stroke-width="0.7"/>
<rect x="273.10" y="347.92" width="2.20" height="2.20" fill="#941c44"/>
<rect x="283.75" y="353.18" width="2.20" height="2.20" fill="#941c44"/>
<rect x="294.40" y="356.40" width="2.20" height="2.20" fill="#941c44"/>
<rect x="305.05" y="358.51" width="2.20" height="2.20" fill="#941c44"/>
<rect x="315.70" y="359.63" width="2.20" height="2.20" fill="#941c44"/>
<rect x="326.35" y="360.19" width="2.20" height="2.20" fill="#941c44"/>
<path d="M231.60,284.66 L233.22,284.75 L234.85,284.84 L236.47,284.95 L238.10,285.07 L239.72,285.20 L241.35,285.35 L242.97,285.52 L244.60,285.71 L246.22,285.91 L247.85,286.14 L249.47,286.40 L251.09,286.69 L252.72,287.00 L254.34,287.36 L255.97,287.75 L257.59,288.18 L259.22,288.66 L260.84,289.19 L262.47,289.78 L264.09,290.42 L265.72,291.13 L267.34,291.91 L268.97,292.77 L270.59,293.71 L272.21,294.73 L273.84,295.84 L275.46,297.04 L277.09,298.34 L278.71,299.74 L280.34,301.25 L281.96,302.86 L283.59,304.57 L285.21,306.38 L286.84,308.29 L288.46,310.30 L290.08,312.39 L291.71,314.56 L293.33,316.80 L294.96,319.09 L296.58,321.43 L298.21,323.80 L299.83,326.18 L301.46,328.56 L303.08,330.93 L304.71,333.26 L306.33,335.55 L307.96,337.79 L309.58,339.95 L311.20,342.04 L312.83,344.03 L314.45,345.94 L316.08,347.74 L317.70,349.45 L319.33,351.05 L320.95,352.54 L322.58,353.94 L324.20,355.23 L325.83,356.43 L327.45,357.53" fill="none" stroke="#111" stroke-width="1.8" stroke-linejoin="round"/>
<rect x="230.40" y="283.91" width="2.40" height="2.40" fill="#111"/>
<rect x="241.05" y="284.61" width="2.40" height="2.40" fill="#111"/>
<rect x="251.70" y="285.66" width="2.40" height="2.40" fill="#111"/>
<rect x="262.35" y="287.42" width="2.40" height="2.40" fill="#111"/>
<rect x="273.00" y="296.88" width="2.40" height="2.40" fill="#111"/>
<rect x="283.65" y="305.22" width="2.40" height="2.40" fill="#111"/>
<rect x="294.30" y="317.13" width="2.40" height="2.40" fill="#111"/>
<rect x="304.95" y="335.07" width="2.40" height="2.40" fill="#111"/>
<rect x="315.60" y="346.98" width="2.40" height="2.40" fill="#111"/>
<rect x="326.25" y="356.30" width="2.40" height="2.40" fill="#111"/>
<path d="M196.90,396.20H210.80" stroke="#111" stroke-width="1.4"/>
<circle cx="203.85" cy="396.20" r="1.3" fill="#111"/>
<text transform="translate(212.30,398.60) scale(0.92,1)" font-size="7.283" fill="#333" text-anchor="start" font-weight="normal" stroke="#333" stroke-width="0.098" >0 μmol/L afatinib</text>
<path d="M266.40,396.20H279.80" stroke="#989898" stroke-width="1.4"/>
<circle cx="273.10" cy="396.20" r="1.3" fill="#989898"/>
<text transform="translate(282.30,398.60) scale(0.92,1)" font-size="7.283" fill="#333" text-anchor="start" font-weight="normal" stroke="#333" stroke-width="0.098" >0.1 μmol/L afatinib</text>
<path d="M196.90,407.20H210.80" stroke="#941c44" stroke-width="1.4"/>
<circle cx="203.85" cy="407.20" r="1.3" fill="#941c44"/>
<text transform="translate(212.30,409.60) scale(0.92,1)" font-size="7.283" fill="#333" text-anchor="start" font-weight="normal" stroke="#333" stroke-width="0.098" >1 μmol/L afatinib</text>
<path d="M266.40,407.20H279.80" stroke="#2d3f98" stroke-width="1.4"/>
<circle cx="273.10" cy="407.20" r="1.3" fill="#2d3f98"/>
<text transform="translate(282.30,409.60) scale(0.92,1)" font-size="7.283" fill="#333" text-anchor="start" font-weight="normal" stroke="#333" stroke-width="0.098" >10 μmol/L afatinib</text>
<text transform="translate(347.80,268.60) scale(1,1)" font-size="10.300" fill="#111" text-anchor="start" font-weight="bold" stroke="#111" stroke-width="0.25">E</text>
<text transform="translate(445.5,275.3) scale(0.92,1)" font-size="8.370" fill="#333" stroke="#333" stroke-width="0.098" text-anchor="middle"><tspan font-style="italic">KRAS</tspan><tspan font-size="6.413" dy="-3.0">G12</tspan><tspan dy="3.0"> mutants from</tspan></text>
<text transform="translate(445.50,284.30) scale(0.92,1)" font-size="8.370" fill="#333" text-anchor="middle" font-weight="normal" stroke="#333" stroke-width="0.098" >lung and large intestine</text>
<path d="M391.3,284.20V392.6H500.20" fill="none" stroke="#444" stroke-width="1"/>
<path d="M388.00,392.60H391.3" stroke="#444" stroke-width="0.9"/>
<text transform="translate(386.60,395.30) scale(0.92,1)" font-size="8.043" fill="#333" text-anchor="end" font-weight="normal" stroke="#333" stroke-width="0.098" >0</text>
<path d="M391.30,392.6V395.90" stroke="#444" stroke-width="0.9"/>
<text transform="translate(391.30,403.20) scale(0.92,1)" font-size="8.043" fill="#333" text-anchor="middle" font-weight="normal" stroke="#333" stroke-width="0.098" >0</text>
<path d="M388.00,365.50H391.3" stroke="#444" stroke-width="0.9"/>
<text transform="translate(386.60,368.20) scale(0.92,1)" font-size="8.043" fill="#333" text-anchor="end" font-weight="normal" stroke="#333" stroke-width="0.098" >5</text>
<path d="M418.40,392.6V395.90" stroke="#444" stroke-width="0.9"/>
<text transform="translate(418.40,403.20) scale(0.92,1)" font-size="8.043" fill="#333" text-anchor="middle" font-weight="normal" stroke="#333" stroke-width="0.098" >5</text>
<path d="M388.00,338.40H391.3" stroke="#444" stroke-width="0.9"/>
<text transform="translate(386.60,341.10) scale(0.92,1)" font-size="8.043" fill="#333" text-anchor="end" font-weight="normal" stroke="#333" stroke-width="0.098" >10</text>
<path d="M445.50,392.6V395.90" stroke="#444" stroke-width="0.9"/>
<text transform="translate(445.50,403.20) scale(0.92,1)" font-size="8.043" fill="#333" text-anchor="middle" font-weight="normal" stroke="#333" stroke-width="0.098" >10</text>
<path d="M388.00,311.30H391.3" stroke="#444" stroke-width="0.9"/>
<text transform="translate(386.60,314.00) scale(0.92,1)" font-size="8.043" fill="#333" text-anchor="end" font-weight="normal" stroke="#333" stroke-width="0.098" >15</text>
<path d="M472.60,392.6V395.90" stroke="#444" stroke-width="0.9"/>
<text transform="translate(472.60,403.20) scale(0.92,1)" font-size="8.043" fill="#333" text-anchor="middle" font-weight="normal" stroke="#333" stroke-width="0.098" >15</text>
<path d="M388.00,284.20H391.3" stroke="#444" stroke-width="0.9"/>
<text transform="translate(386.60,286.90) scale(0.92,1)" font-size="8.043" fill="#333" text-anchor="end" font-weight="normal" stroke="#333" stroke-width="0.098" >20</text>
<path d="M499.70,392.6V395.90" stroke="#444" stroke-width="0.9"/>
<text transform="translate(499.70,403.20) scale(0.92,1)" font-size="8.043" fill="#333" text-anchor="middle" font-weight="normal" stroke="#333" stroke-width="0.098" >20</text>
<text transform="translate(445.20,412.40) scale(0.92,1)" font-size="8.370" fill="#333" text-anchor="middle" font-weight="normal" stroke="#333" stroke-width="0.098" >AUC BMS-754807</text>
<text transform="translate(371.40,338.00) rotate(-90) scale(0.92,1)" font-size="8.478" fill="#333" text-anchor="middle" font-weight="normal" stroke="#333" stroke-width="0.098" >AUC selumetinib</text>
<circle cx="433.8" cy="311.4" r="1.4" fill="#111"/>
<circle cx="435.1" cy="321.0" r="1.4" fill="#111"/>
<circle cx="467.5" cy="313.8" r="1.4" fill="#111"/>
<circle cx="467.2" cy="318.2" r="1.4" fill="#111"/>
<circle cx="463.0" cy="321.0" r="1.4" fill="#111"/>
<circle cx="464.6" cy="321.4" r="1.4" fill="#111"/>
<circle cx="466.8" cy="324.4" r="1.4" fill="#111"/>
<circle cx="459.6" cy="326.1" r="1.4" fill="#111"/>
<circle cx="460.4" cy="327.3" r="1.4" fill="#111"/>
<circle cx="450.0" cy="328.3" r="1.4" fill="#111"/>
<circle cx="443.2" cy="330.3" r="1.4" fill="#111"/>
<circle cx="469.7" cy="330.0" r="1.4" fill="#111"/>
<circle cx="464.6" cy="330.3" r="1.4" fill="#111"/>
<circle cx="457.0" cy="332.8" r="1.4" fill="#111"/>
<circle cx="455.4" cy="334.5" r="1.4" fill="#111"/>
<circle cx="461.8" cy="334.5" r="1.4" fill="#111"/>
<circle cx="457.9" cy="334.0" r="1.4" fill="#111"/>
<circle cx="456.2" cy="335.4" r="1.4" fill="#111"/>
<circle cx="450.3" cy="337.9" r="1.4" fill="#111"/>
<circle cx="454.0" cy="338.7" r="1.4" fill="#111"/>
<circle cx="454.5" cy="340.1" r="1.4" fill="#111"/>
<circle cx="448.6" cy="340.1" r="1.4" fill="#111"/>
<circle cx="447.3" cy="341.3" r="1.4" fill="#111"/>
<circle cx="446.6" cy="343.0" r="1.4" fill="#111"/>
<circle cx="448.3" cy="342.4" r="1.4" fill="#111"/>
<circle cx="445.2" cy="345.1" r="1.4" fill="#111"/>
<circle cx="456.2" cy="344.1" r="1.4" fill="#111"/>
<circle cx="458.4" cy="343.5" r="1.4" fill="#111"/>
<circle cx="460.1" cy="344.1" r="1.4" fill="#111"/>
<circle cx="457.4" cy="346.3" r="1.4" fill="#111"/>
<circle cx="458.7" cy="345.5" r="1.4" fill="#111"/>
<circle cx="453.3" cy="346.8" r="1.4" fill="#111"/>
<circle cx="452.0" cy="349.2" r="1.4" fill="#111"/>
<circle cx="451.1" cy="350.2" r="1.4" fill="#111"/>
<circle cx="455.9" cy="354.8" r="1.4" fill="#111"/>
<circle cx="437.1" cy="350.9" r="1.4" fill="#111"/>
<circle cx="433.8" cy="354.8" r="1.4" fill="#111"/>
<circle cx="439.3" cy="355.6" r="1.4" fill="#111"/>
<circle cx="441.4" cy="357.8" r="1.4" fill="#111"/>
<circle cx="429.7" cy="361.0" r="1.4" fill="#111"/>
<circle cx="432.1" cy="362.7" r="1.4" fill="#111"/>
<circle cx="430.1" cy="364.0" r="1.4" fill="#111"/>
<circle cx="430.9" cy="369.1" r="1.4" fill="#111"/>
<circle cx="489.6" cy="339.9" r="1.4" fill="#111"/>
</svg>
</body></html>
